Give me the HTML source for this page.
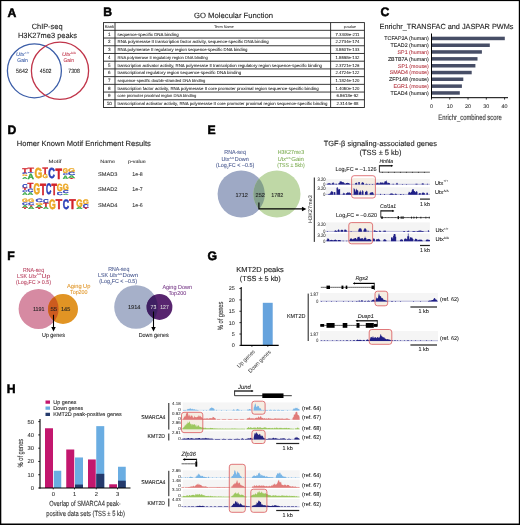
<!DOCTYPE html>
<html><head><meta charset="utf-8"><style>
svg{will-change:transform}
html,body{margin:0;padding:0;background:#fff;width:520px;height:525px;overflow:hidden}
svg text{font-family:"Liberation Sans", sans-serif;text-rendering:geometricPrecision}
</style></head><body>
<svg width="520" height="525" viewBox="0 0 520 525" style="display:block"><text x="7.45" y="16.55" font-size="12.222" fill="#000" font-weight="bold" stroke="#000" stroke-width="0.5">A</text>
<text x="31.70" y="28.78" font-size="7.6" fill="#222" textLength="30.80" lengthAdjust="spacingAndGlyphs" stroke="#222" stroke-width="0.114">ChIP-seq</text>
<text x="17.90" y="38.18" font-size="7.6" fill="#222" textLength="59.10" lengthAdjust="spacingAndGlyphs" stroke="#222" stroke-width="0.114">H3K27me3 peaks</text>
<circle cx="34.40" cy="70.80" r="27.00" fill="none" stroke="#3c5ea8" stroke-width="1.3"/>
<circle cx="60.00" cy="70.80" r="28.60" fill="none" stroke="#c0354a" stroke-width="1.3"/>
<text x="16.00" y="56.40" font-size="5.4" fill="#3c5ea8" textLength="8.60" lengthAdjust="spacingAndGlyphs" font-style="italic" stroke="#3c5ea8" stroke-width="0.081">Utx</text>
<text x="24.80" y="53.60" font-size="3.2" fill="#3c5ea8" stroke="#3c5ea8" stroke-width="0.048">+/+</text>
<text x="17.30" y="62.04" font-size="5.4" fill="#3c5ea8" textLength="10.60" lengthAdjust="spacingAndGlyphs" stroke="#3c5ea8" stroke-width="0.081">Gain</text>
<text x="62.00" y="56.40" font-size="5.4" fill="#c0354a" textLength="8.60" lengthAdjust="spacingAndGlyphs" font-style="italic" stroke="#c0354a" stroke-width="0.081">Utx</text>
<text x="70.80" y="53.60" font-size="3.2" fill="#c0354a" stroke="#c0354a" stroke-width="0.048">Δ/Δ</text>
<text x="63.50" y="62.04" font-size="5.4" fill="#c0354a" textLength="10.50" lengthAdjust="spacingAndGlyphs" stroke="#c0354a" stroke-width="0.081">Gain</text>
<text x="16.00" y="73.24" font-size="6.0" fill="#222" textLength="11.90" lengthAdjust="spacingAndGlyphs" stroke="#222" stroke-width="0.090">5642</text>
<text x="39.80" y="73.24" font-size="6.0" fill="#222" textLength="11.70" lengthAdjust="spacingAndGlyphs" stroke="#222" stroke-width="0.090">4502</text>
<text x="68.30" y="73.24" font-size="6.0" fill="#222" textLength="11.50" lengthAdjust="spacingAndGlyphs" stroke="#222" stroke-width="0.090">7308</text>
<text x="103.23" y="16.35" font-size="12.222" fill="#000" font-weight="bold" stroke="#000" stroke-width="0.5">B</text>
<text x="194.00" y="18.08" font-size="7.6" fill="#222" textLength="79.10" lengthAdjust="spacingAndGlyphs" stroke="#222" stroke-width="0.114">GO Molecular Function</text>
<rect x="103.50" y="22.60" width="260.90" height="84.90" fill="none" stroke="#222" stroke-width="0.9"/>
<line x1="103.50" y1="30.32" x2="364.40" y2="30.32" stroke="#222" stroke-width="0.9"/>
<line x1="103.50" y1="38.04" x2="364.40" y2="38.04" stroke="#222" stroke-width="0.9"/>
<line x1="103.50" y1="45.75" x2="364.40" y2="45.75" stroke="#222" stroke-width="0.9"/>
<line x1="103.50" y1="53.47" x2="364.40" y2="53.47" stroke="#222" stroke-width="0.9"/>
<line x1="103.50" y1="61.19" x2="364.40" y2="61.19" stroke="#222" stroke-width="0.9"/>
<line x1="103.50" y1="68.91" x2="364.40" y2="68.91" stroke="#222" stroke-width="0.9"/>
<line x1="103.50" y1="76.63" x2="364.40" y2="76.63" stroke="#222" stroke-width="0.9"/>
<line x1="103.50" y1="84.35" x2="364.40" y2="84.35" stroke="#222" stroke-width="0.9"/>
<line x1="103.50" y1="92.06" x2="364.40" y2="92.06" stroke="#222" stroke-width="0.9"/>
<line x1="103.50" y1="99.78" x2="364.40" y2="99.78" stroke="#222" stroke-width="0.9"/>
<line x1="115.00" y1="22.60" x2="115.00" y2="107.50" stroke="#222" stroke-width="0.9"/>
<line x1="330.60" y1="22.60" x2="330.60" y2="107.50" stroke="#222" stroke-width="0.9"/>
<text x="109.30" y="27.86" font-size="4.0" fill="#222" text-anchor="middle" textLength="9.20" lengthAdjust="spacingAndGlyphs" stroke="#222" stroke-width="0.060">Rank</text>
<text x="224.00" y="27.86" font-size="3.8" fill="#333" text-anchor="middle" stroke="#333" stroke-width="0.057">Term Name</text>
<text x="350.00" y="27.86" font-size="3.8" fill="#333" text-anchor="middle" stroke="#333" stroke-width="0.057">p-value</text>
<text x="109.30" y="35.63" font-size="4.6" fill="#222" text-anchor="middle" stroke="#222" stroke-width="0.069">1</text>
<text x="117.50" y="35.63" font-size="4.3" fill="#222" textLength="61.25" lengthAdjust="spacingAndGlyphs" stroke="#222" stroke-width="0.064">sequence-specific DNA binding</text>
<text x="347.50" y="35.63" font-size="4.3" fill="#222" text-anchor="middle" textLength="24.00" lengthAdjust="spacingAndGlyphs" stroke="#222" stroke-width="0.064">7.3309e-211</text>
<text x="109.30" y="43.35" font-size="4.6" fill="#222" text-anchor="middle" stroke="#222" stroke-width="0.069">2</text>
<text x="117.50" y="43.35" font-size="4.3" fill="#222" textLength="151.25" lengthAdjust="spacingAndGlyphs" stroke="#222" stroke-width="0.064">RNA polymerase II transcription factor activity, sequence-specific DNA binding</text>
<text x="347.50" y="43.35" font-size="4.3" fill="#222" text-anchor="middle" textLength="24.00" lengthAdjust="spacingAndGlyphs" stroke="#222" stroke-width="0.064">2.2734e-174</text>
<text x="109.30" y="51.06" font-size="4.6" fill="#222" text-anchor="middle" stroke="#222" stroke-width="0.069">3</text>
<text x="117.50" y="51.06" font-size="4.3" fill="#222" textLength="130.00" lengthAdjust="spacingAndGlyphs" stroke="#222" stroke-width="0.064">RNA polymerase II regulatory region sequence-specific DNA binding</text>
<text x="347.50" y="51.06" font-size="4.3" fill="#222" text-anchor="middle" textLength="24.00" lengthAdjust="spacingAndGlyphs" stroke="#222" stroke-width="0.064">3.5507e-133</text>
<text x="109.30" y="58.78" font-size="4.6" fill="#222" text-anchor="middle" stroke="#222" stroke-width="0.069">4</text>
<text x="117.50" y="58.78" font-size="4.128" fill="#222" stroke="#222" stroke-width="0.062">RNA polymerase II regulatory region DNA binding</text>
<text x="347.50" y="58.78" font-size="4.3" fill="#222" text-anchor="middle" textLength="24.00" lengthAdjust="spacingAndGlyphs" stroke="#222" stroke-width="0.064">1.5598e-132</text>
<text x="109.30" y="66.50" font-size="4.6" fill="#222" text-anchor="middle" stroke="#222" stroke-width="0.069">5</text>
<text x="117.50" y="66.50" font-size="4.3" fill="#222" textLength="204.50" lengthAdjust="spacingAndGlyphs" stroke="#222" stroke-width="0.064">transcription activator activity, RNA polymerase II transcription regulatory region sequence-specific binding</text>
<text x="347.50" y="66.50" font-size="4.3" fill="#222" text-anchor="middle" textLength="24.00" lengthAdjust="spacingAndGlyphs" stroke="#222" stroke-width="0.064">2.3721e-126</text>
<text x="109.30" y="74.22" font-size="4.6" fill="#222" text-anchor="middle" stroke="#222" stroke-width="0.069">6</text>
<text x="117.50" y="74.22" font-size="4.3" fill="#222" textLength="123.75" lengthAdjust="spacingAndGlyphs" stroke="#222" stroke-width="0.064">transcriptional regulatory region sequence-specific DNA binding</text>
<text x="347.50" y="74.22" font-size="4.3" fill="#222" text-anchor="middle" textLength="24.00" lengthAdjust="spacingAndGlyphs" stroke="#222" stroke-width="0.064">2.4724e-122</text>
<text x="109.30" y="81.94" font-size="4.6" fill="#222" text-anchor="middle" stroke="#222" stroke-width="0.069">7</text>
<text x="117.50" y="81.94" font-size="4.128" fill="#222" stroke="#222" stroke-width="0.062">sequence-specific double-stranded DNA binding</text>
<text x="347.50" y="81.94" font-size="4.3" fill="#222" text-anchor="middle" textLength="24.00" lengthAdjust="spacingAndGlyphs" stroke="#222" stroke-width="0.064">1.1824e-120</text>
<text x="109.30" y="89.65" font-size="4.6" fill="#222" text-anchor="middle" stroke="#222" stroke-width="0.069">8</text>
<text x="117.50" y="89.65" font-size="4.3" fill="#222" textLength="201.25" lengthAdjust="spacingAndGlyphs" stroke="#222" stroke-width="0.064">transcription factor activity, RNA polymerase II core promoter proximal region sequence-specific binding</text>
<text x="347.50" y="89.65" font-size="4.3" fill="#222" text-anchor="middle" textLength="24.00" lengthAdjust="spacingAndGlyphs" stroke="#222" stroke-width="0.064">1.4050e-120</text>
<text x="109.30" y="97.37" font-size="4.6" fill="#222" text-anchor="middle" stroke="#222" stroke-width="0.069">9</text>
<text x="117.50" y="97.37" font-size="4.128" fill="#222" stroke="#222" stroke-width="0.062">core promoter proximal region DNA binding</text>
<text x="347.50" y="97.37" font-size="4.3" fill="#222" text-anchor="middle" textLength="22.00" lengthAdjust="spacingAndGlyphs" stroke="#222" stroke-width="0.064">6.5618e-92</text>
<text x="109.30" y="105.09" font-size="4.6" fill="#222" text-anchor="middle" stroke="#222" stroke-width="0.069">10</text>
<text x="117.50" y="105.09" font-size="4.3" fill="#222" textLength="210.00" lengthAdjust="spacingAndGlyphs" stroke="#222" stroke-width="0.064">transcriptional activator activity, RNA polymerase II core promoter proximal region sequence-specific binding</text>
<text x="347.50" y="105.09" font-size="4.3" fill="#222" text-anchor="middle" textLength="22.00" lengthAdjust="spacingAndGlyphs" stroke="#222" stroke-width="0.064">2.3144e-88</text>
<text x="380.40" y="16.45" font-size="12.222" fill="#000" font-weight="bold" stroke="#000" stroke-width="0.5">C</text>
<text x="379.50" y="29.02" font-size="7.4" fill="#222" textLength="133.90" lengthAdjust="spacingAndGlyphs" stroke="#222" stroke-width="0.111">Enrichr_TRANSFAC and JASPAR PWMs</text>
<rect x="431.50" y="36.70" width="73.30" height="3.50" fill="#474e66"/>
<text x="428.80" y="40.10" font-size="5.3" fill="#222" text-anchor="end" stroke="#222" stroke-width="0.080">TCFAP2A (human)</text>
<rect x="431.50" y="43.50" width="58.30" height="3.50" fill="#474e66"/>
<text x="428.80" y="46.90" font-size="5.3" fill="#222" text-anchor="end" stroke="#222" stroke-width="0.080">TEAD2 (human)</text>
<rect x="431.50" y="50.20" width="50.40" height="3.50" fill="#474e66"/>
<text x="428.80" y="53.60" font-size="5.3" fill="#b3343f" text-anchor="end" stroke="#b3343f" stroke-width="0.080">SP1 (human)</text>
<rect x="431.50" y="57.10" width="46.00" height="3.50" fill="#474e66"/>
<text x="428.80" y="60.50" font-size="5.3" fill="#222" text-anchor="end" stroke="#222" stroke-width="0.080">ZBTB7A (human)</text>
<rect x="431.50" y="64.00" width="43.90" height="3.50" fill="#474e66"/>
<text x="428.80" y="67.50" font-size="5.3" fill="#b3343f" text-anchor="end" stroke="#b3343f" stroke-width="0.080">SP1 (mouse)</text>
<rect x="431.50" y="70.80" width="40.20" height="3.50" fill="#474e66"/>
<text x="428.80" y="74.30" font-size="5.3" fill="#b3343f" text-anchor="end" stroke="#b3343f" stroke-width="0.080">SMAD4 (mouse)</text>
<rect x="431.50" y="77.50" width="31.80" height="3.50" fill="#474e66"/>
<text x="428.80" y="81.10" font-size="5.3" fill="#222" text-anchor="end" stroke="#222" stroke-width="0.080">ZFP148 (mouse)</text>
<rect x="431.50" y="84.40" width="30.40" height="3.50" fill="#474e66"/>
<text x="428.80" y="87.80" font-size="5.3" fill="#b3343f" text-anchor="end" stroke="#b3343f" stroke-width="0.080">EGR1 (mouse)</text>
<rect x="431.50" y="91.20" width="28.30" height="3.50" fill="#474e66"/>
<text x="428.80" y="94.50" font-size="5.3" fill="#222" text-anchor="end" stroke="#222" stroke-width="0.080">TEAD4 (human)</text>
<line x1="431.50" y1="33.50" x2="431.50" y2="98.20" stroke="#000" stroke-width="1.0"/>
<line x1="431.00" y1="97.70" x2="508.00" y2="97.70" stroke="#000" stroke-width="1.0"/>
<line x1="431.50" y1="97.70" x2="431.50" y2="99.60" stroke="#000" stroke-width="0.8"/>
<text x="431.50" y="108.40" font-size="5.4" fill="#333" text-anchor="middle" stroke="#333" stroke-width="0.081">0</text>
<line x1="449.77" y1="97.70" x2="449.77" y2="99.60" stroke="#000" stroke-width="0.8"/>
<text x="449.77" y="108.40" font-size="5.4" fill="#333" text-anchor="middle" stroke="#333" stroke-width="0.081">10</text>
<line x1="468.04" y1="97.70" x2="468.04" y2="99.60" stroke="#000" stroke-width="0.8"/>
<text x="468.04" y="108.40" font-size="5.4" fill="#333" text-anchor="middle" stroke="#333" stroke-width="0.081">20</text>
<line x1="486.31" y1="97.70" x2="486.31" y2="99.60" stroke="#000" stroke-width="0.8"/>
<text x="486.31" y="108.40" font-size="5.4" fill="#333" text-anchor="middle" stroke="#333" stroke-width="0.081">30</text>
<line x1="504.58" y1="97.70" x2="504.58" y2="99.60" stroke="#000" stroke-width="0.8"/>
<text x="504.58" y="108.40" font-size="5.4" fill="#333" text-anchor="middle" stroke="#333" stroke-width="0.081">40</text>
<text x="438.30" y="119.65" font-size="7.8" fill="#333" textLength="63.40" lengthAdjust="spacingAndGlyphs" stroke="#333" stroke-width="0.117">Enrichr_combined score</text>
<text x="7.53" y="133.65" font-size="12.222" fill="#000" font-weight="bold" stroke="#000" stroke-width="0.5">D</text>
<text x="16.80" y="146.18" font-size="7.6" fill="#222" textLength="134.00" lengthAdjust="spacingAndGlyphs" stroke="#222" stroke-width="0.114">Homer Known Motif Enrichment Results</text>
<text x="48.60" y="162.63" font-size="4.8" fill="#333" textLength="12.90" lengthAdjust="spacingAndGlyphs" stroke="#333" stroke-width="0.072">Motif</text>
<text x="100.30" y="162.93" font-size="4.8" fill="#333" textLength="14.70" lengthAdjust="spacingAndGlyphs" stroke="#333" stroke-width="0.072">Name</text>
<text x="128.00" y="162.93" font-size="4.8" fill="#333" textLength="17.80" lengthAdjust="spacingAndGlyphs" stroke="#333" stroke-width="0.072">p-value</text>
<text x="98.00" y="175.87" font-size="5.5" fill="#333" textLength="19.50" lengthAdjust="spacingAndGlyphs" stroke="#333" stroke-width="0.083">SMAD3</text>
<text x="132.30" y="175.87" font-size="5.5" fill="#333" textLength="10.50" lengthAdjust="spacingAndGlyphs" stroke="#333" stroke-width="0.083">1e-8</text>
<text x="98.00" y="190.87" font-size="5.5" fill="#333" textLength="19.50" lengthAdjust="spacingAndGlyphs" stroke="#333" stroke-width="0.083">SMAD2</text>
<text x="132.30" y="190.87" font-size="5.5" fill="#333" textLength="10.50" lengthAdjust="spacingAndGlyphs" stroke="#333" stroke-width="0.083">1e-7</text>
<text x="98.00" y="206.87" font-size="5.5" fill="#333" textLength="19.50" lengthAdjust="spacingAndGlyphs" stroke="#333" stroke-width="0.083">SMAD4</text>
<text x="132.30" y="206.87" font-size="5.5" fill="#333" textLength="10.50" lengthAdjust="spacingAndGlyphs" stroke="#333" stroke-width="0.083">1e-6</text>
<text transform="translate(22.20,172.50) scale(1,0.683)" font-size="10.0" font-weight="bold" fill="#d2232a" stroke="#d2232a" stroke-width="0.45" vector-effect="non-scaling-stroke" textLength="5.30" lengthAdjust="spacingAndGlyphs">T</text>
<text transform="translate(22.20,174.37) scale(1,0.243)" font-size="10.0" font-weight="bold" fill="#2b3fb8" stroke="#2b3fb8" stroke-width="0.45" vector-effect="non-scaling-stroke" textLength="5.30" lengthAdjust="spacingAndGlyphs">C</text>
<text transform="translate(22.20,176.27) scale(1,0.257)" font-size="10.0" font-weight="bold" fill="#eba520" stroke="#eba520" stroke-width="0.45" vector-effect="non-scaling-stroke" textLength="5.30" lengthAdjust="spacingAndGlyphs">G</text>
<text transform="translate(22.20,178.50) scale(1,0.291)" font-size="10.0" font-weight="bold" fill="#3aa845" stroke="#3aa845" stroke-width="0.45" vector-effect="non-scaling-stroke" textLength="5.30" lengthAdjust="spacingAndGlyphs">A</text>
<text transform="translate(27.60,172.00) scale(1,0.610)" font-size="10.0" font-weight="bold" fill="#d2232a" stroke="#d2232a" stroke-width="0.45" vector-effect="non-scaling-stroke" textLength="6.50" lengthAdjust="spacingAndGlyphs">T</text>
<text transform="translate(27.60,173.18) scale(1,0.143)" font-size="10.0" font-weight="bold" fill="#2b3fb8" stroke="#2b3fb8" stroke-width="0.45" vector-effect="non-scaling-stroke" textLength="6.50" lengthAdjust="spacingAndGlyphs">C</text>
<text transform="translate(27.60,178.50) scale(1,0.756)" font-size="10.0" font-weight="bold" fill="#3aa845" stroke="#3aa845" stroke-width="0.45" vector-effect="non-scaling-stroke" textLength="6.50" lengthAdjust="spacingAndGlyphs">A</text>
<text transform="translate(34.60,178.33) scale(1,1.443)" font-size="10.0" font-weight="bold" fill="#eba520" stroke="#eba520" stroke-width="0.45" vector-effect="non-scaling-stroke" textLength="7.80" lengthAdjust="spacingAndGlyphs">G</text>
<text transform="translate(42.40,174.40) scale(1,0.959)" font-size="10.0" font-weight="bold" fill="#d2232a" stroke="#d2232a" stroke-width="0.45" vector-effect="non-scaling-stroke" textLength="5.40" lengthAdjust="spacingAndGlyphs">T</text>
<text transform="translate(42.40,178.43) scale(1,0.571)" font-size="10.0" font-weight="bold" fill="#eba520" stroke="#eba520" stroke-width="0.45" vector-effect="non-scaling-stroke" textLength="5.40" lengthAdjust="spacingAndGlyphs">G</text>
<text transform="translate(48.30,178.33) scale(1,1.443)" font-size="10.0" font-weight="bold" fill="#2b3fb8" stroke="#2b3fb8" stroke-width="0.45" vector-effect="non-scaling-stroke" textLength="6.70" lengthAdjust="spacingAndGlyphs">C</text>
<text transform="translate(55.60,178.50) scale(1,1.483)" font-size="10.0" font-weight="bold" fill="#d2232a" stroke="#d2232a" stroke-width="0.45" vector-effect="non-scaling-stroke" textLength="6.50" lengthAdjust="spacingAndGlyphs">T</text>
<text transform="translate(62.70,173.02) scale(1,0.686)" font-size="10.0" font-weight="bold" fill="#eba520" stroke="#eba520" stroke-width="0.45" vector-effect="non-scaling-stroke" textLength="5.30" lengthAdjust="spacingAndGlyphs">G</text>
<text transform="translate(62.70,174.97) scale(1,0.257)" font-size="10.0" font-weight="bold" fill="#2b3fb8" stroke="#2b3fb8" stroke-width="0.45" vector-effect="non-scaling-stroke" textLength="5.30" lengthAdjust="spacingAndGlyphs">C</text>
<text transform="translate(62.70,178.50) scale(1,0.480)" font-size="10.0" font-weight="bold" fill="#3aa845" stroke="#3aa845" stroke-width="0.45" vector-effect="non-scaling-stroke" textLength="5.30" lengthAdjust="spacingAndGlyphs">A</text>
<text transform="translate(68.10,171.53) scale(1,0.543)" font-size="10.0" font-weight="bold" fill="#eba520" stroke="#eba520" stroke-width="0.45" vector-effect="non-scaling-stroke" textLength="7.10" lengthAdjust="spacingAndGlyphs">G</text>
<text transform="translate(68.10,174.95) scale(1,0.457)" font-size="10.0" font-weight="bold" fill="#2b3fb8" stroke="#2b3fb8" stroke-width="0.45" vector-effect="non-scaling-stroke" textLength="7.10" lengthAdjust="spacingAndGlyphs">C</text>
<text transform="translate(68.10,177.50) scale(1,0.349)" font-size="10.0" font-weight="bold" fill="#3aa845" stroke="#3aa845" stroke-width="0.45" vector-effect="non-scaling-stroke" textLength="7.10" lengthAdjust="spacingAndGlyphs">A</text>
<text transform="translate(68.10,178.50) scale(1,0.145)" font-size="10.0" font-weight="bold" fill="#d2232a" stroke="#d2232a" stroke-width="0.45" vector-effect="non-scaling-stroke" textLength="7.10" lengthAdjust="spacingAndGlyphs">T</text>
<text transform="translate(22.20,187.53) scale(1,0.571)" font-size="10.0" font-weight="bold" fill="#2b3fb8" stroke="#2b3fb8" stroke-width="0.45" vector-effect="non-scaling-stroke" textLength="5.30" lengthAdjust="spacingAndGlyphs">C</text>
<text transform="translate(22.20,190.00) scale(1,0.334)" font-size="10.0" font-weight="bold" fill="#d2232a" stroke="#d2232a" stroke-width="0.45" vector-effect="non-scaling-stroke" textLength="5.30" lengthAdjust="spacingAndGlyphs">T</text>
<text transform="translate(22.20,191.87) scale(1,0.257)" font-size="10.0" font-weight="bold" fill="#2b3fb8" stroke="#2b3fb8" stroke-width="0.45" vector-effect="non-scaling-stroke" textLength="5.30" lengthAdjust="spacingAndGlyphs">C</text>
<text transform="translate(22.20,194.60) scale(1,0.378)" font-size="10.0" font-weight="bold" fill="#3aa845" stroke="#3aa845" stroke-width="0.45" vector-effect="non-scaling-stroke" textLength="5.30" lengthAdjust="spacingAndGlyphs">A</text>
<text transform="translate(27.60,188.40) scale(1,0.741)" font-size="10.0" font-weight="bold" fill="#d2232a" stroke="#d2232a" stroke-width="0.45" vector-effect="non-scaling-stroke" textLength="5.80" lengthAdjust="spacingAndGlyphs">T</text>
<text transform="translate(27.60,191.84) scale(1,0.486)" font-size="10.0" font-weight="bold" fill="#2b3fb8" stroke="#2b3fb8" stroke-width="0.45" vector-effect="non-scaling-stroke" textLength="5.80" lengthAdjust="spacingAndGlyphs">C</text>
<text transform="translate(27.60,194.60) scale(1,0.378)" font-size="10.0" font-weight="bold" fill="#3aa845" stroke="#3aa845" stroke-width="0.45" vector-effect="non-scaling-stroke" textLength="5.80" lengthAdjust="spacingAndGlyphs">A</text>
<text transform="translate(33.50,194.41) scale(1,1.543)" font-size="10.0" font-weight="bold" fill="#eba520" stroke="#eba520" stroke-width="0.45" vector-effect="non-scaling-stroke" textLength="6.50" lengthAdjust="spacingAndGlyphs">G</text>
<text transform="translate(40.00,194.60) scale(1,1.613)" font-size="10.0" font-weight="bold" fill="#d2232a" stroke="#d2232a" stroke-width="0.45" vector-effect="non-scaling-stroke" textLength="6.00" lengthAdjust="spacingAndGlyphs">T</text>
<text transform="translate(46.00,194.41) scale(1,1.543)" font-size="10.0" font-weight="bold" fill="#2b3fb8" stroke="#2b3fb8" stroke-width="0.45" vector-effect="non-scaling-stroke" textLength="5.40" lengthAdjust="spacingAndGlyphs">C</text>
<text transform="translate(51.40,194.60) scale(1,1.613)" font-size="10.0" font-weight="bold" fill="#d2232a" stroke="#d2232a" stroke-width="0.45" vector-effect="non-scaling-stroke" textLength="5.40" lengthAdjust="spacingAndGlyphs">T</text>
<text transform="translate(56.80,191.27) scale(1,1.057)" font-size="10.0" font-weight="bold" fill="#eba520" stroke="#eba520" stroke-width="0.45" vector-effect="non-scaling-stroke" textLength="5.90" lengthAdjust="spacingAndGlyphs">G</text>
<text transform="translate(56.80,194.55) scale(1,0.443)" font-size="10.0" font-weight="bold" fill="#2b3fb8" stroke="#2b3fb8" stroke-width="0.45" vector-effect="non-scaling-stroke" textLength="5.90" lengthAdjust="spacingAndGlyphs">C</text>
<text transform="translate(62.70,190.29) scale(1,0.914)" font-size="10.0" font-weight="bold" fill="#eba520" stroke="#eba520" stroke-width="0.45" vector-effect="non-scaling-stroke" textLength="6.00" lengthAdjust="spacingAndGlyphs">G</text>
<text transform="translate(62.70,193.35) scale(1,0.414)" font-size="10.0" font-weight="bold" fill="#2b3fb8" stroke="#2b3fb8" stroke-width="0.45" vector-effect="non-scaling-stroke" textLength="6.00" lengthAdjust="spacingAndGlyphs">C</text>
<text transform="translate(62.70,194.60) scale(1,0.160)" font-size="10.0" font-weight="bold" fill="#3aa845" stroke="#3aa845" stroke-width="0.45" vector-effect="non-scaling-stroke" textLength="6.00" lengthAdjust="spacingAndGlyphs">A</text>
<text transform="translate(22.00,202.34) scale(1,0.486)" font-size="10.0" font-weight="bold" fill="#eba520" stroke="#eba520" stroke-width="0.45" vector-effect="non-scaling-stroke" textLength="6.00" lengthAdjust="spacingAndGlyphs">G</text>
<text transform="translate(22.00,204.96) scale(1,0.357)" font-size="10.0" font-weight="bold" fill="#2b3fb8" stroke="#2b3fb8" stroke-width="0.45" vector-effect="non-scaling-stroke" textLength="6.00" lengthAdjust="spacingAndGlyphs">C</text>
<text transform="translate(22.00,208.00) scale(1,0.407)" font-size="10.0" font-weight="bold" fill="#3aa845" stroke="#3aa845" stroke-width="0.45" vector-effect="non-scaling-stroke" textLength="6.00" lengthAdjust="spacingAndGlyphs">A</text>
<text transform="translate(22.00,209.40) scale(1,0.203)" font-size="10.0" font-weight="bold" fill="#d2232a" stroke="#d2232a" stroke-width="0.45" vector-effect="non-scaling-stroke" textLength="6.00" lengthAdjust="spacingAndGlyphs">T</text>
<text transform="translate(28.00,202.34) scale(1,0.486)" font-size="10.0" font-weight="bold" fill="#eba520" stroke="#eba520" stroke-width="0.45" vector-effect="non-scaling-stroke" textLength="6.40" lengthAdjust="spacingAndGlyphs">G</text>
<text transform="translate(28.00,204.96) scale(1,0.357)" font-size="10.0" font-weight="bold" fill="#2b3fb8" stroke="#2b3fb8" stroke-width="0.45" vector-effect="non-scaling-stroke" textLength="6.40" lengthAdjust="spacingAndGlyphs">C</text>
<text transform="translate(28.00,207.00) scale(1,0.262)" font-size="10.0" font-weight="bold" fill="#d2232a" stroke="#d2232a" stroke-width="0.45" vector-effect="non-scaling-stroke" textLength="6.40" lengthAdjust="spacingAndGlyphs">T</text>
<text transform="translate(28.00,209.40) scale(1,0.349)" font-size="10.0" font-weight="bold" fill="#3aa845" stroke="#3aa845" stroke-width="0.45" vector-effect="non-scaling-stroke" textLength="6.40" lengthAdjust="spacingAndGlyphs">A</text>
<text transform="translate(35.60,202.34) scale(1,0.486)" font-size="10.0" font-weight="bold" fill="#2b3fb8" stroke="#2b3fb8" stroke-width="0.45" vector-effect="non-scaling-stroke" textLength="7.30" lengthAdjust="spacingAndGlyphs">C</text>
<text transform="translate(35.60,204.56) scale(1,0.300)" font-size="10.0" font-weight="bold" fill="#eba520" stroke="#eba520" stroke-width="0.45" vector-effect="non-scaling-stroke" textLength="7.30" lengthAdjust="spacingAndGlyphs">G</text>
<text transform="translate(35.60,207.80) scale(1,0.436)" font-size="10.0" font-weight="bold" fill="#3aa845" stroke="#3aa845" stroke-width="0.45" vector-effect="non-scaling-stroke" textLength="7.30" lengthAdjust="spacingAndGlyphs">A</text>
<text transform="translate(35.60,209.40) scale(1,0.233)" font-size="10.0" font-weight="bold" fill="#d2232a" stroke="#d2232a" stroke-width="0.45" vector-effect="non-scaling-stroke" textLength="7.30" lengthAdjust="spacingAndGlyphs">T</text>
<text transform="translate(42.90,202.93) scale(1,0.571)" font-size="10.0" font-weight="bold" fill="#2b3fb8" stroke="#2b3fb8" stroke-width="0.45" vector-effect="non-scaling-stroke" textLength="5.70" lengthAdjust="spacingAndGlyphs">C</text>
<text transform="translate(42.90,207.20) scale(1,0.596)" font-size="10.0" font-weight="bold" fill="#d2232a" stroke="#d2232a" stroke-width="0.45" vector-effect="non-scaling-stroke" textLength="5.70" lengthAdjust="spacingAndGlyphs">T</text>
<text transform="translate(42.90,209.40) scale(1,0.305)" font-size="10.0" font-weight="bold" fill="#3aa845" stroke="#3aa845" stroke-width="0.45" vector-effect="non-scaling-stroke" textLength="5.70" lengthAdjust="spacingAndGlyphs">A</text>
<text transform="translate(49.00,209.24) scale(1,1.371)" font-size="10.0" font-weight="bold" fill="#eba520" stroke="#eba520" stroke-width="0.45" vector-effect="non-scaling-stroke" textLength="6.70" lengthAdjust="spacingAndGlyphs">G</text>
<text transform="translate(55.70,209.40) scale(1,1.424)" font-size="10.0" font-weight="bold" fill="#d2232a" stroke="#d2232a" stroke-width="0.45" vector-effect="non-scaling-stroke" textLength="6.40" lengthAdjust="spacingAndGlyphs">T</text>
<text transform="translate(62.80,209.24) scale(1,1.371)" font-size="10.0" font-weight="bold" fill="#2b3fb8" stroke="#2b3fb8" stroke-width="0.45" vector-effect="non-scaling-stroke" textLength="6.40" lengthAdjust="spacingAndGlyphs">C</text>
<text transform="translate(69.20,209.40) scale(1,1.424)" font-size="10.0" font-weight="bold" fill="#d2232a" stroke="#d2232a" stroke-width="0.45" vector-effect="non-scaling-stroke" textLength="6.40" lengthAdjust="spacingAndGlyphs">T</text>
<text transform="translate(76.30,206.87) scale(1,1.071)" font-size="10.0" font-weight="bold" fill="#eba520" stroke="#eba520" stroke-width="0.45" vector-effect="non-scaling-stroke" textLength="6.40" lengthAdjust="spacingAndGlyphs">G</text>
<text transform="translate(76.30,209.40) scale(1,0.334)" font-size="10.0" font-weight="bold" fill="#3aa845" stroke="#3aa845" stroke-width="0.45" vector-effect="non-scaling-stroke" textLength="6.40" lengthAdjust="spacingAndGlyphs">A</text>
<text transform="translate(82.70,203.92) scale(1,0.643)" font-size="10.0" font-weight="bold" fill="#eba520" stroke="#eba520" stroke-width="0.45" vector-effect="non-scaling-stroke" textLength="6.10" lengthAdjust="spacingAndGlyphs">G</text>
<text transform="translate(82.70,207.93) scale(1,0.557)" font-size="10.0" font-weight="bold" fill="#2b3fb8" stroke="#2b3fb8" stroke-width="0.45" vector-effect="non-scaling-stroke" textLength="6.10" lengthAdjust="spacingAndGlyphs">C</text>
<text transform="translate(82.70,209.40) scale(1,0.203)" font-size="10.0" font-weight="bold" fill="#d2232a" stroke="#d2232a" stroke-width="0.45" vector-effect="non-scaling-stroke" textLength="6.10" lengthAdjust="spacingAndGlyphs">T</text>
<text x="207.43" y="133.55" font-size="12.222" fill="#000" font-weight="bold" stroke="#000" stroke-width="0.5">E</text>
<text x="224.30" y="154.27" font-size="5.8" fill="#4a5a90" textLength="21.60" lengthAdjust="spacingAndGlyphs" stroke="#4a5a90" stroke-width="0.087">RNA-seq</text>
<text x="221.40" y="161.10" font-size="5.8" fill="#4a5a90" textLength="8.00" lengthAdjust="spacingAndGlyphs" stroke="#4a5a90" stroke-width="0.087">Utx</text>
<text x="229.60" y="158.60" font-size="2.8" fill="#4a5a90" stroke="#4a5a90" stroke-width="0.042">Δ/Δ</text>
<text x="234.80" y="161.10" font-size="5.8" fill="#4a5a90" textLength="14.00" lengthAdjust="spacingAndGlyphs" stroke="#4a5a90" stroke-width="0.087">Down</text>
<text x="216.00" y="167.30" font-size="5.8" fill="#4a5a90" stroke="#4a5a90" stroke-width="0.087" textLength="38.20" lengthAdjust="spacingAndGlyphs">(Log<tspan font-size="3.48" dy="1.28">2</tspan><tspan dy="-1.28">FC &lt; –0.5)</tspan></text>
<text x="277.70" y="154.27" font-size="5.8" fill="#7fae55" textLength="26.50" lengthAdjust="spacingAndGlyphs" stroke="#7fae55" stroke-width="0.087">H3K27me3</text>
<text x="277.80" y="161.10" font-size="5.8" fill="#7fae55" textLength="8.00" lengthAdjust="spacingAndGlyphs" font-style="italic" stroke="#7fae55" stroke-width="0.087">Utx</text>
<text x="286.00" y="158.60" font-size="2.8" fill="#7fae55" stroke="#7fae55" stroke-width="0.042">Δ/Δ</text>
<text x="291.20" y="161.10" font-size="5.8" fill="#7fae55" textLength="12.80" lengthAdjust="spacingAndGlyphs" stroke="#7fae55" stroke-width="0.087">Gain</text>
<text x="277.20" y="167.47" font-size="5.8" fill="#7fae55" textLength="27.50" lengthAdjust="spacingAndGlyphs" stroke="#7fae55" stroke-width="0.087">(TSS ± 5kb)</text>
<defs><clipPath id="cbE"><circle cx="241.2" cy="194.0" r="23.6"/></clipPath><clipPath id="cbF1"><circle cx="38.6" cy="308.9" r="20.0"/></clipPath><clipPath id="cbF2"><circle cx="136.0" cy="307.0" r="21.8"/></clipPath></defs>
<circle cx="241.20" cy="194.00" r="23.60" fill="#9ea9c5" stroke="none" stroke-width="1"/>
<circle cx="276.90" cy="194.00" r="23.60" fill="#bfd8a6" stroke="none" stroke-width="1"/>
<circle cx="276.90" cy="194.00" r="23.60" fill="#84a08c" stroke="none" stroke-width="1" clip-path="url(#cbE)"/>
<text x="235.40" y="196.50" font-size="5.6" fill="#222" textLength="12.60" lengthAdjust="spacingAndGlyphs" stroke="#222" stroke-width="0.084">1712</text>
<text x="255.50" y="196.50" font-size="5.6" fill="#222" textLength="9.50" lengthAdjust="spacingAndGlyphs" stroke="#222" stroke-width="0.084">252</text>
<text x="271.20" y="196.50" font-size="5.6" fill="#222" textLength="12.20" lengthAdjust="spacingAndGlyphs" stroke="#222" stroke-width="0.084">1782</text>
<path d="M258.9,202.5L258.9,208.9L302.0,208.9" fill="none" stroke="#000" stroke-width="1.1"/>
<path d="M306.40,208.90L301.92,206.66L301.92,211.14Z" fill="#000" stroke="none" stroke-width="1"/>
<text x="323.80" y="146.35" font-size="7.5" fill="#222" textLength="113.10" lengthAdjust="spacingAndGlyphs" stroke="#222" stroke-width="0.112">TGF-β signaling-associated genes</text>
<text x="359.50" y="155.15" font-size="7.5" fill="#222" textLength="42.00" lengthAdjust="spacingAndGlyphs" stroke="#222" stroke-width="0.112">(TSS ± 5 kb)</text>
<line x1="314.30" y1="177.50" x2="314.30" y2="241.90" stroke="#000" stroke-width="0.9"/>
<text transform="translate(312.4,222.9) rotate(-90)" font-size="5.3" fill="#222" textLength="27.7" lengthAdjust="spacingAndGlyphs">H3K27me3</text>
<text x="335.40" y="171.10" font-size="5.8" fill="#222" stroke="#222" stroke-width="0.087" textLength="41.10" lengthAdjust="spacingAndGlyphs">Log<tspan font-size="3.48" dy="1.28">2</tspan><tspan dy="-1.28">FC = –1.126</tspan></text>
<text x="379.40" y="163.00" font-size="5.4" fill="#222" textLength="13.80" lengthAdjust="spacingAndGlyphs" font-style="italic" stroke="#222" stroke-width="0.081">Hnf4a</text>
<line x1="379.40" y1="172.20" x2="379.40" y2="165.20" stroke="#000" stroke-width="0.8"/>
<line x1="379.40" y1="165.80" x2="392.20" y2="165.80" stroke="#000" stroke-width="1.2"/>
<path d="M393.20,165.80L391.10,164.75L391.10,166.85Z" fill="#000" stroke="none" stroke-width="1"/>
<line x1="379.40" y1="172.20" x2="429.90" y2="172.20" stroke="#222" stroke-width="0.7"/>
<circle cx="382.40" cy="172.20" r="0.5" fill="#222"/>
<circle cx="388.40" cy="172.20" r="0.5" fill="#222"/>
<circle cx="394.40" cy="172.20" r="0.5" fill="#222"/>
<circle cx="400.40" cy="172.20" r="0.5" fill="#222"/>
<circle cx="406.40" cy="172.20" r="0.5" fill="#222"/>
<circle cx="412.40" cy="172.20" r="0.5" fill="#222"/>
<circle cx="418.40" cy="172.20" r="0.5" fill="#222"/>
<circle cx="424.40" cy="172.20" r="0.5" fill="#222"/>
<rect x="325.70" y="179.20" width="104.20" height="5.70" fill="#f4f4f4"/>
<rect x="325.70" y="187.30" width="104.20" height="7.70" fill="#f4f4f4"/>
<rect x="351.60" y="178.00" width="23.80" height="18.20" rx="2.5" fill="#f5ece0" fill-opacity="0.9"/>
<line x1="325.70" y1="184.30" x2="429.90" y2="184.30" stroke="#8c8cc8" stroke-width="0.6"/>
<path d="M327.10,184.60L327.10,183.86L327.70,183.86L327.70,183.50L328.30,183.50L328.30,183.19L328.90,183.19L328.90,183.35L329.50,183.35L329.50,183.37L330.10,183.37L330.10,183.49L330.70,183.49L330.70,183.94L331.30,183.94L331.30,184.60ZM331.80,184.60L331.80,183.24L332.45,183.24L332.45,182.66L333.10,182.66L333.10,182.56L333.75,182.56L333.75,183.44L334.40,183.44L334.40,184.60ZM335.40,184.60L335.40,183.86L335.93,183.86L335.93,183.73L336.47,183.73L336.47,183.72L337.00,183.72L337.00,184.60ZM338.50,184.60L338.50,182.96L339.07,182.96L339.07,182.73L339.65,182.73L339.65,181.52L340.22,181.52L340.22,181.26L340.79,181.26L340.79,181.44L341.36,181.44L341.36,181.43L341.94,181.43L341.94,181.97L342.51,181.97L342.51,182.24L343.08,182.24L343.08,181.95L343.65,181.95L343.65,182.72L344.23,182.72L344.23,183.23L344.80,183.23L344.80,184.60ZM344.80,184.60L344.80,183.79L345.38,183.79L345.38,183.53L345.96,183.53L345.96,183.12L346.53,183.12L346.53,183.02L347.11,183.02L347.11,182.75L347.69,182.75L347.69,182.98L348.27,182.98L348.27,183.02L348.84,183.02L348.84,183.31L349.42,183.31L349.42,183.66L350.00,183.66L350.00,184.60ZM355.20,184.60L355.20,183.03L355.87,183.03L355.87,182.73L356.53,182.73L356.53,182.72L357.20,182.72L357.20,184.60ZM358.30,184.60L358.30,181.96L359.05,181.96L359.05,182.08L359.80,182.08L359.80,184.60ZM361.40,184.60L361.40,182.65L362.05,182.65L362.05,182.30L362.70,182.30L362.70,182.37L363.35,182.37L363.35,182.93L364.00,182.93L364.00,184.60ZM365.50,184.60L365.50,184.06L366.02,184.06L366.02,183.65L366.55,183.65L366.55,183.77L367.08,183.77L367.08,183.89L367.60,183.89L367.60,184.60ZM369.00,184.60L369.00,184.06L369.50,184.06L369.50,183.95L370.00,183.95L370.00,184.60ZM372.00,184.60L372.00,183.97L372.50,183.97L372.50,184.10L373.00,184.10L373.00,184.60ZM376.00,184.60L376.00,183.55L376.62,183.55L376.62,182.71L377.24,182.71L377.24,182.84L377.86,182.84L377.86,182.67L378.48,182.67L378.48,183.47L379.10,183.47L379.10,184.60ZM379.10,184.60L379.10,183.51L379.71,183.51L379.71,182.66L380.33,182.66L380.33,182.25L380.94,182.25L380.94,182.52L381.55,182.52L381.55,182.67L382.16,182.67L382.16,182.59L382.78,182.59L382.77,182.43L383.39,182.43L383.39,183.19L384.00,183.19L384.00,184.60ZM384.00,184.60L384.00,182.42L384.57,182.42L384.57,181.33L385.13,181.33L385.13,181.17L385.70,181.17L385.70,181.23L386.27,181.23L386.27,180.62L386.83,180.62L386.83,182.37L387.40,182.37L387.40,184.60ZM387.40,184.60L387.40,183.21L388.05,183.21L388.05,182.79L388.70,182.79L388.70,182.96L389.35,182.96L389.35,183.13L390.00,183.13L390.00,184.60ZM392.60,184.60L392.60,183.82L393.15,183.82L393.15,183.66L393.70,183.66L393.70,184.60ZM396.20,184.60L396.20,183.31L396.73,183.31L396.73,182.75L397.27,182.75L397.27,183.26L397.80,183.26L397.80,184.60ZM402.00,184.60L402.00,184.09L402.50,184.09L402.50,183.94L403.00,183.94L403.00,184.60ZM406.00,184.60L406.00,183.98L406.50,183.98L406.50,184.08L407.00,184.08L407.00,184.60ZM415.50,184.60L415.50,183.69L416.17,183.69L416.17,183.69L416.83,183.69L416.83,183.83L417.50,183.83L417.50,184.60ZM421.70,184.60L421.70,183.58L422.23,183.58L422.23,183.30L422.75,183.30L422.75,183.54L423.27,183.54L423.27,183.54L423.80,183.54L423.80,184.60ZM426.90,184.60L426.90,183.79L427.40,183.79L427.40,183.78L427.90,183.78L427.90,184.60Z" fill="#1f1f86" stroke="none" stroke-width="1"/>
<line x1="325.70" y1="194.40" x2="429.90" y2="194.40" stroke="#8c8cc8" stroke-width="0.6"/>
<path d="M328.20,194.70L328.20,193.91L328.87,193.91L328.87,193.63L329.53,193.63L329.53,193.86L330.20,193.86L330.20,194.70ZM330.20,194.70L330.20,192.50L330.82,192.50L330.82,191.79L331.44,191.79L331.44,191.07L332.06,191.07L332.06,191.46L332.68,191.46L332.68,191.90L333.30,191.90L333.30,194.70ZM333.90,194.70L333.90,192.06L334.65,192.06L334.65,192.14L335.40,192.14L335.40,194.70ZM336.50,194.70L336.50,187.80L337.17,187.80L337.17,187.30L337.83,187.30L337.83,188.80L338.50,188.80L338.50,194.70ZM338.50,194.70L338.50,189.83L339.03,189.83L339.03,189.13L339.57,189.13L339.57,189.00L340.10,189.00L340.10,194.70ZM342.70,194.70L342.70,193.63L343.23,193.63L343.23,192.78L343.75,192.78L343.75,193.24L344.27,193.24L344.27,193.35L344.80,193.35L344.80,194.70ZM345.80,194.70L345.80,193.54L346.38,193.54L346.38,192.97L346.96,192.97L346.96,192.37L347.53,192.37L347.53,192.85L348.11,192.85L348.11,192.78L348.69,192.78L348.69,192.14L349.27,192.14L349.27,192.62L349.84,192.62L349.84,193.17L350.42,193.17L350.42,193.25L351.00,193.25L351.00,194.70ZM353.60,194.70L353.60,188.35L354.13,188.35L354.13,188.70L354.67,188.70L354.67,189.38L355.20,189.38L355.20,194.70ZM355.20,194.70L355.20,191.41L355.82,191.41L355.82,189.76L356.44,189.76L356.44,188.75L357.06,188.75L357.06,190.04L357.68,190.04L357.68,190.65L358.30,190.65L358.30,194.70ZM358.80,194.70L358.80,192.42L359.45,192.42L359.45,191.44L360.10,191.44L360.10,190.58L360.75,190.58L360.75,192.08L361.40,192.08L361.40,194.70ZM361.90,194.70L361.90,191.32L362.43,191.32L362.43,190.11L362.97,190.11L362.97,191.25L363.50,191.25L363.50,194.70ZM365.00,194.70L365.00,192.10L365.65,192.10L365.65,191.62L366.30,191.62L366.30,190.70L366.95,190.70L366.95,191.53L367.60,191.53L367.60,194.70ZM369.70,194.70L369.70,192.95L370.29,192.95L370.29,192.43L370.87,192.43L370.87,192.38L371.46,192.38L371.46,192.29L372.04,192.29L372.04,192.09L372.63,192.09L372.63,192.42L373.21,192.42L373.21,193.41L373.80,193.41L373.80,194.70ZM380.00,194.70L380.00,193.89L380.50,193.89L380.50,193.85L381.00,193.85L381.00,194.70ZM384.00,194.70L384.00,194.02L384.50,194.02L384.50,193.95L385.00,193.95L385.00,194.70ZM389.50,194.70L389.50,193.95L390.10,193.95L390.10,193.81L390.70,193.81L390.70,193.34L391.30,193.34L391.30,193.46L391.90,193.46L391.90,193.47L392.50,193.47L392.50,193.73L393.10,193.73L393.10,193.97L393.70,193.97L393.70,194.70ZM394.70,194.70L394.70,194.00L395.23,194.00L395.23,193.62L395.75,193.62L395.75,193.85L396.27,193.85L396.27,193.96L396.80,193.96L396.80,194.70ZM400.00,194.70L400.00,194.10L400.75,194.10L400.75,193.98L401.50,193.98L401.50,194.70ZM403.00,194.70L403.00,194.20L403.50,194.20L403.50,194.18L404.00,194.18L404.00,194.70ZM408.20,194.70L408.20,192.80L408.76,192.80L408.76,191.74L409.32,191.74L409.32,192.15L409.88,192.15L409.88,191.92L410.44,191.92L410.44,192.89L411.00,192.89L411.00,194.70ZM411.00,194.70L411.00,191.94L411.57,191.94L411.57,190.44L412.14,190.44L412.14,189.01L412.71,189.01L412.71,189.66L413.29,189.66L413.29,189.01L413.86,189.01L413.86,190.92L414.43,190.92L414.43,191.25L415.00,191.25L415.00,194.70ZM415.00,194.70L415.00,192.29L415.62,192.29L415.62,191.63L416.25,191.63L416.25,190.94L416.88,190.94L416.88,191.79L417.50,191.79L417.50,194.70ZM418.60,194.70L418.60,193.47L419.30,193.47L419.30,192.96L420.00,192.96L420.00,193.06L420.70,193.06L420.70,194.70ZM421.70,194.70L421.70,193.11L422.32,193.11L422.32,192.56L422.94,192.56L422.94,192.61L423.56,192.61L423.56,192.73L424.18,192.73L424.18,192.95L424.80,192.95L424.80,194.70ZM426.40,194.70L426.40,192.72L427.15,192.72L427.15,192.71L427.90,192.71L427.90,194.70Z" fill="#1f1f86" stroke="none" stroke-width="1"/>
<rect x="351.60" y="178.00" width="23.80" height="18.20" rx="2.5" fill="#f5ece0" fill-opacity="0.0"/>
<rect x="351.60" y="175.70" width="23.80" height="22.30" rx="2.5" fill="none" stroke="#d9575c" stroke-width="0.8"/>
<text x="317.50" y="180.87" font-size="4.9" fill="#333" textLength="8.20" lengthAdjust="spacingAndGlyphs" stroke="#333" stroke-width="0.073">3.20</text>
<text x="323.20" y="186.07" font-size="4.9" fill="#333" textLength="2.10" lengthAdjust="spacingAndGlyphs" stroke="#333" stroke-width="0.073">0</text>
<text x="317.50" y="190.47" font-size="4.9" fill="#333" textLength="8.20" lengthAdjust="spacingAndGlyphs" stroke="#333" stroke-width="0.073">3.20</text>
<text x="323.20" y="196.27" font-size="4.9" fill="#333" textLength="2.10" lengthAdjust="spacingAndGlyphs" stroke="#333" stroke-width="0.073">0</text>
<text x="435.00" y="184.60" font-size="5.6" fill="#222" textLength="8.40" lengthAdjust="spacingAndGlyphs" stroke="#222" stroke-width="0.084">Utx</text>
<text x="443.40" y="182.20" font-size="3.2" fill="#222" stroke="#222" stroke-width="0.048">+/+</text>
<text x="435.00" y="194.40" font-size="5.6" fill="#222" textLength="8.40" lengthAdjust="spacingAndGlyphs" stroke="#222" stroke-width="0.084">Utx</text>
<text x="443.40" y="192.00" font-size="3.2" fill="#222" stroke="#222" stroke-width="0.048">Δ/Δ</text>
<rect x="420.00" y="198.50" width="9.90" height="1.20" fill="#222"/>
<text x="420.00" y="206.00" font-size="5.6" fill="#222" textLength="9.90" lengthAdjust="spacingAndGlyphs" stroke="#222" stroke-width="0.084">1 kb</text>
<text x="336.10" y="216.80" font-size="5.8" fill="#222" stroke="#222" stroke-width="0.087" textLength="41.00" lengthAdjust="spacingAndGlyphs">Log<tspan font-size="3.48" dy="1.28">2</tspan><tspan dy="-1.28">FC = –0.620</tspan></text>
<text x="380.10" y="208.00" font-size="5.4" fill="#222" textLength="16.10" lengthAdjust="spacingAndGlyphs" font-style="italic" stroke="#222" stroke-width="0.081">Col1a1</text>
<line x1="380.80" y1="217.60" x2="380.80" y2="210.30" stroke="#000" stroke-width="0.8"/>
<line x1="380.80" y1="210.90" x2="393.40" y2="210.90" stroke="#000" stroke-width="1.2"/>
<path d="M394.40,210.90L392.30,209.85L392.30,211.95Z" fill="#000" stroke="none" stroke-width="1"/>
<line x1="380.80" y1="217.60" x2="429.90" y2="217.60" stroke="#222" stroke-width="0.7"/>
<circle cx="382.40" cy="217.60" r="0.45" fill="#222"/>
<circle cx="385.60" cy="217.60" r="0.45" fill="#222"/>
<circle cx="388.80" cy="217.60" r="0.45" fill="#222"/>
<circle cx="392.00" cy="217.60" r="0.45" fill="#222"/>
<circle cx="395.20" cy="217.60" r="0.45" fill="#222"/>
<circle cx="398.40" cy="217.60" r="0.45" fill="#222"/>
<circle cx="401.60" cy="217.60" r="0.45" fill="#222"/>
<circle cx="404.80" cy="217.60" r="0.45" fill="#222"/>
<circle cx="408.00" cy="217.60" r="0.45" fill="#222"/>
<circle cx="411.20" cy="217.60" r="0.45" fill="#222"/>
<circle cx="414.40" cy="217.60" r="0.45" fill="#222"/>
<circle cx="417.60" cy="217.60" r="0.45" fill="#222"/>
<circle cx="420.80" cy="217.60" r="0.45" fill="#222"/>
<circle cx="424.00" cy="217.60" r="0.45" fill="#222"/>
<circle cx="427.20" cy="217.60" r="0.45" fill="#222"/>
<rect x="381.20" y="216.40" width="1.60" height="2.40" fill="#111"/>
<rect x="397.60" y="216.10" width="1.40" height="3.00" fill="#111"/>
<rect x="400.70" y="216.30" width="0.90" height="2.60" fill="#111"/>
<rect x="402.40" y="216.30" width="1.20" height="2.60" fill="#111"/>
<rect x="411.00" y="216.60" width="0.80" height="2.00" fill="#111"/>
<rect x="413.50" y="216.60" width="0.80" height="2.00" fill="#111"/>
<rect x="416.00" y="216.60" width="0.80" height="2.00" fill="#111"/>
<rect x="420.50" y="216.70" width="0.80" height="1.80" fill="#111"/>
<rect x="425.50" y="216.70" width="0.80" height="1.80" fill="#111"/>
<rect x="428.80" y="216.70" width="0.80" height="1.80" fill="#111"/>
<rect x="325.70" y="222.40" width="104.20" height="9.50" fill="#f4f4f4"/>
<rect x="325.70" y="233.50" width="104.20" height="8.00" fill="#f4f4f4"/>
<rect x="348.80" y="222.60" width="23.80" height="21.20" rx="2.5" fill="#f5ece0" fill-opacity="0.9"/>
<line x1="325.70" y1="231.40" x2="429.90" y2="231.40" stroke="#8c8cc8" stroke-width="0.6"/>
<path d="M327.00,231.70L327.00,231.20L327.50,231.20L327.50,231.20L328.00,231.20L328.00,231.70ZM334.40,231.70L334.40,230.73L335.05,230.73L335.05,230.31L335.70,230.31L335.70,230.61L336.35,230.61L336.35,230.88L337.00,230.88L337.00,231.70ZM337.50,231.70L337.50,230.28L338.02,230.28L338.02,229.70L338.55,229.70L338.55,229.29L339.08,229.29L339.08,230.29L339.60,230.29L339.60,231.70ZM340.60,231.70L340.60,230.05L341.25,230.05L341.25,229.71L341.90,229.71L341.90,229.64L342.55,229.64L342.55,230.11L343.20,230.11L343.20,231.70ZM344.20,231.70L344.20,229.87L344.85,229.87L344.85,229.39L345.50,229.39L345.50,229.87L346.15,229.87L346.15,230.20L346.80,230.20L346.80,231.70ZM350.50,231.70L350.50,231.20L351.00,231.20L351.00,231.06L351.50,231.06L351.50,231.70ZM358.30,231.70L358.30,229.51L358.90,229.51L358.90,228.58L359.50,228.58L359.50,228.20L360.10,228.20L360.10,228.29L360.70,228.29L360.70,228.44L361.30,228.44L361.30,229.52L361.90,229.52L361.90,231.70ZM363.50,231.70L363.50,229.78L364.12,229.78L364.12,228.39L364.74,228.39L364.74,228.55L365.36,228.55L365.36,228.49L365.98,228.49L365.98,229.55L366.60,229.55L366.60,231.70ZM367.60,231.70L367.60,230.61L368.10,230.61L368.10,230.63L368.60,230.63L368.60,231.70ZM373.80,231.70L373.80,230.54L374.50,230.54L374.50,230.28L375.20,230.28L375.20,230.67L375.90,230.67L375.90,231.70ZM376.00,231.70L376.00,231.07L376.75,231.07L376.75,231.08L377.50,231.08L377.50,231.70ZM379.00,231.70L379.00,230.77L379.67,230.77L379.67,230.62L380.33,230.62L380.33,230.89L381.00,230.89L381.00,231.70ZM383.30,231.70L383.30,230.71L383.95,230.71L383.95,230.63L384.60,230.63L384.60,230.39L385.25,230.39L385.25,230.81L385.90,230.81L385.90,231.70ZM403.00,231.70L403.00,231.17L403.67,231.17L403.67,231.02L404.33,231.02L404.33,231.10L405.00,231.10L405.00,231.70ZM407.20,231.70L407.20,230.97L407.87,230.97L407.87,230.70L408.53,230.70L408.53,230.87L409.20,230.87L409.20,231.70ZM412.30,231.70L412.30,231.20L412.94,231.20L412.94,231.09L413.58,231.09L413.58,230.94L414.22,230.94L414.22,231.06L414.86,231.06L414.86,231.20L415.50,231.20L415.50,231.70ZM416.50,231.70L416.50,231.20L417.11,231.20L417.11,231.01L417.72,231.01L417.72,230.98L418.33,230.98L418.32,230.71L418.93,230.71L418.93,230.55L419.54,230.55L419.54,230.73L420.15,230.73L420.15,230.61L420.76,230.61L420.76,230.56L421.37,230.56L421.37,230.92L421.98,230.92L421.98,230.96L422.58,230.96L422.58,230.90L423.19,230.90L423.19,231.14L423.80,231.14L423.80,231.70ZM427.90,231.70L427.90,230.29L428.45,230.29L428.45,230.52L429.00,230.52L429.00,231.70Z" fill="#1f1f86" stroke="none" stroke-width="1"/>
<line x1="325.70" y1="240.90" x2="429.90" y2="240.90" stroke="#8c8cc8" stroke-width="0.6"/>
<path d="M326.60,241.20L326.60,239.64L327.25,239.64L327.25,238.55L327.90,238.55L327.90,238.60L328.55,238.60L328.55,239.10L329.20,239.10L329.20,241.20ZM329.20,241.20L329.20,240.51L329.79,240.51L329.79,240.22L330.37,240.22L330.37,239.88L330.96,239.88L330.96,239.86L331.54,239.86L331.54,240.06L332.13,240.06L332.13,240.05L332.71,240.05L332.71,240.48L333.30,240.48L333.30,241.20ZM333.30,241.20L333.30,240.16L333.92,240.16L333.92,240.04L334.53,240.04L334.53,239.85L335.15,239.85L335.15,239.48L335.77,239.48L335.77,239.92L336.38,239.92L336.38,240.33L337.00,240.33L337.00,241.20ZM337.50,241.20L337.50,240.32L338.10,240.32L338.10,240.02L338.70,240.02L338.70,240.11L339.30,240.11L339.30,239.92L339.90,239.92L339.90,240.01L340.50,240.01L340.50,240.51L341.10,240.51L341.10,241.20ZM342.70,241.20L342.70,240.61L343.20,240.61L343.20,240.70L343.70,240.70L343.70,241.20ZM346.20,241.20L346.20,240.67L346.70,240.67L346.70,240.70L347.20,240.70L347.20,241.20ZM349.40,241.20L349.40,239.79L350.02,239.79L350.02,238.57L350.63,238.57L350.63,238.78L351.25,238.78L351.25,238.25L351.87,238.25L351.87,239.00L352.48,239.00L352.48,239.56L353.10,239.56L353.10,241.20ZM353.10,241.20L353.10,239.08L353.69,239.08L353.69,238.33L354.27,238.33L354.27,238.57L354.86,238.57L354.86,237.93L355.44,237.93L355.44,238.00L356.03,238.00L356.03,238.82L356.61,238.82L356.61,239.60L357.20,239.60L357.20,241.20ZM357.20,241.20L357.20,237.58L357.82,237.58L357.82,236.71L358.44,236.71L358.44,236.91L359.06,236.91L359.06,236.80L359.68,236.80L359.68,238.33L360.30,238.33L360.30,241.20ZM360.30,241.20L360.30,238.87L360.94,238.87L360.94,238.26L361.58,238.26L361.58,238.48L362.22,238.48L362.22,237.92L362.86,237.92L362.86,239.41L363.50,239.41L363.50,241.20ZM363.50,241.20L363.50,238.72L364.12,238.72L364.12,238.07L364.74,238.07L364.74,236.79L365.36,236.79L365.36,237.96L365.98,237.96L365.98,238.49L366.60,238.49L366.60,241.20ZM366.60,241.20L366.60,240.10L367.18,240.10L367.18,239.36L367.75,239.36L367.75,238.92L368.32,238.92L368.32,238.91L368.90,238.91L368.90,238.97L369.47,238.97L369.48,239.07L370.05,239.07L370.05,239.38L370.62,239.38L370.62,239.87L371.20,239.87L371.20,241.20ZM372.80,241.20L372.80,239.08L373.50,239.08L373.50,238.06L374.20,238.06L374.20,238.95L374.90,238.95L374.90,241.20ZM375.90,241.20L375.90,239.67L376.51,239.67L376.51,238.96L377.13,238.96L377.13,239.34L377.74,239.34L377.74,239.21L378.36,239.21L378.36,238.84L378.97,238.84L378.97,239.22L379.59,239.22L379.59,240.08L380.20,240.08L380.20,241.20ZM383.30,241.20L383.30,239.85L383.92,239.85L383.92,239.15L384.54,239.15L384.54,239.35L385.16,239.35L385.16,239.53L385.78,239.53L385.78,239.91L386.40,239.91L386.40,241.20ZM391.00,241.20L391.00,237.53L391.52,237.53L391.52,237.25L392.05,237.25L392.05,237.19L392.58,237.19L392.58,238.38L393.10,238.38L393.10,241.20ZM393.10,241.20L393.10,235.75L393.72,235.75L393.72,233.98L394.34,233.98L394.34,234.03L394.96,234.03L394.96,234.20L395.58,234.20L395.58,236.86L396.20,236.86L396.20,241.20ZM399.90,241.20L399.90,240.02L400.52,240.02L400.52,239.13L401.14,239.13L401.14,239.24L401.76,239.24L401.76,239.57L402.38,239.57L402.38,239.74L403.00,239.74L403.00,241.20ZM404.00,241.20L404.00,239.21L404.64,239.21L404.64,238.52L405.28,238.52L405.28,238.56L405.92,238.56L405.92,238.63L406.56,238.63L406.56,239.33L407.20,239.33L407.20,241.20ZM407.20,241.20L407.20,236.26L407.87,236.26L407.87,233.50L408.53,233.50L408.53,236.19L409.20,236.19L409.20,241.20ZM409.20,241.20L409.20,239.16L409.80,239.16L409.80,237.86L410.40,237.86L410.40,236.98L411.00,236.98L411.00,237.68L411.60,237.68L411.60,237.19L412.20,237.19L412.20,238.13L412.80,238.13L412.80,238.90L413.40,238.90L413.40,241.20ZM414.40,241.20L414.40,239.64L415.02,239.64L415.02,238.75L415.64,238.75L415.64,238.71L416.26,238.71L416.26,239.08L416.88,239.08L416.88,239.50L417.50,239.50L417.50,241.20ZM417.50,241.20L417.50,240.42L418.08,240.42L418.08,240.06L418.66,240.06L418.66,239.59L419.23,239.59L419.23,239.69L419.81,239.69L419.81,239.53L420.39,239.53L420.39,239.81L420.97,239.81L420.97,239.61L421.54,239.61L421.54,239.96L422.12,239.96L422.12,240.45L422.70,240.45L422.70,241.20ZM425.80,241.20L425.80,239.90L426.39,239.90L426.39,239.61L426.97,239.61L426.97,239.47L427.56,239.47L427.56,239.46L428.14,239.46L428.14,239.63L428.73,239.63L428.73,239.76L429.31,239.76L429.31,240.00L429.90,240.00L429.90,241.20Z" fill="#1f1f86" stroke="none" stroke-width="1"/>
<rect x="348.80" y="222.60" width="23.80" height="21.20" rx="2.5" fill="none" stroke="#d9575c" stroke-width="0.8"/>
<text x="317.50" y="226.47" font-size="4.9" fill="#333" textLength="8.20" lengthAdjust="spacingAndGlyphs" stroke="#333" stroke-width="0.073">3.20</text>
<text x="323.20" y="232.57" font-size="4.9" fill="#333" textLength="2.10" lengthAdjust="spacingAndGlyphs" stroke="#333" stroke-width="0.073">0</text>
<text x="317.50" y="236.87" font-size="4.9" fill="#333" textLength="8.20" lengthAdjust="spacingAndGlyphs" stroke="#333" stroke-width="0.073">3.20</text>
<text x="323.20" y="242.97" font-size="4.9" fill="#333" textLength="2.10" lengthAdjust="spacingAndGlyphs" stroke="#333" stroke-width="0.073">0</text>
<text x="435.40" y="232.00" font-size="5.6" fill="#222" textLength="8.40" lengthAdjust="spacingAndGlyphs" stroke="#222" stroke-width="0.084">Utx</text>
<text x="443.80" y="229.60" font-size="3.2" fill="#222" stroke="#222" stroke-width="0.048">+/+</text>
<text x="435.40" y="241.20" font-size="5.6" fill="#222" textLength="8.40" lengthAdjust="spacingAndGlyphs" stroke="#222" stroke-width="0.084">Utx</text>
<text x="443.80" y="238.80" font-size="3.2" fill="#222" stroke="#222" stroke-width="0.048">Δ/Δ</text>
<rect x="420.00" y="244.90" width="9.90" height="1.20" fill="#222"/>
<text x="420.00" y="251.50" font-size="5.6" fill="#222" textLength="9.90" lengthAdjust="spacingAndGlyphs" stroke="#222" stroke-width="0.084">1 kb</text>
<text x="7.23" y="259.55" font-size="12.222" fill="#000" font-weight="bold" stroke="#000" stroke-width="0.5">F</text>
<text x="23.00" y="271.57" font-size="5.8" fill="#b8405e" textLength="21.10" lengthAdjust="spacingAndGlyphs" stroke="#b8405e" stroke-width="0.087">RNA-seq</text>
<text x="17.00" y="277.80" font-size="5.8" fill="#b8405e" textLength="10.00" lengthAdjust="spacingAndGlyphs" stroke="#b8405e" stroke-width="0.087">LSK</text>
<text x="28.60" y="277.80" font-size="5.8" fill="#b8405e" textLength="8.00" lengthAdjust="spacingAndGlyphs" font-style="italic" stroke="#b8405e" stroke-width="0.087">Utx</text>
<text x="36.80" y="275.30" font-size="2.8" fill="#b8405e" stroke="#b8405e" stroke-width="0.042">Δ/Δ</text>
<text x="41.60" y="277.80" font-size="5.8" fill="#b8405e" textLength="8.80" lengthAdjust="spacingAndGlyphs" stroke="#b8405e" stroke-width="0.087">Up</text>
<text x="16.00" y="284.20" font-size="5.8" fill="#b8405e" stroke="#b8405e" stroke-width="0.087" textLength="35.00" lengthAdjust="spacingAndGlyphs">(Log<tspan font-size="3.48" dy="1.28">2</tspan><tspan dy="-1.28">FC &gt; 0.5)</tspan></text>
<text x="67.00" y="288.17" font-size="5.8" fill="#e0962a" textLength="23.40" lengthAdjust="spacingAndGlyphs" stroke="#e0962a" stroke-width="0.087">Aging Up</text>
<text x="70.00" y="294.27" font-size="5.8" fill="#e0962a" textLength="17.50" lengthAdjust="spacingAndGlyphs" stroke="#e0962a" stroke-width="0.087">Top200</text>
<circle cx="38.60" cy="308.90" r="20.00" fill="#d68aa2" stroke="none" stroke-width="1"/>
<circle cx="63.00" cy="309.00" r="15.00" fill="#e19424" stroke="none" stroke-width="1"/>
<circle cx="63.00" cy="309.00" r="15.00" fill="#cc5b1f" stroke="none" stroke-width="1" clip-path="url(#cbF1)"/>
<text x="33.00" y="310.60" font-size="5.6" fill="#222" textLength="11.60" lengthAdjust="spacingAndGlyphs" stroke="#222" stroke-width="0.084">1191</text>
<text x="50.40" y="310.60" font-size="5.6" fill="#222" textLength="6.90" lengthAdjust="spacingAndGlyphs" stroke="#222" stroke-width="0.084">55</text>
<text x="61.00" y="310.60" font-size="5.6" fill="#222" textLength="9.20" lengthAdjust="spacingAndGlyphs" stroke="#222" stroke-width="0.084">145</text>
<line x1="53.50" y1="314.80" x2="53.50" y2="328.00" stroke="#000" stroke-width="1.1"/>
<path d="M53.50,331.40L51.26,326.92L55.74,326.92Z" fill="#000" stroke="none" stroke-width="1"/>
<text x="42.00" y="337.21" font-size="5.9" fill="#222" textLength="23.00" lengthAdjust="spacingAndGlyphs" stroke="#222" stroke-width="0.089">Up genes</text>
<text x="108.30" y="270.67" font-size="5.8" fill="#4a5a90" textLength="21.10" lengthAdjust="spacingAndGlyphs" stroke="#4a5a90" stroke-width="0.087">RNA-seq</text>
<text x="98.00" y="277.00" font-size="5.8" fill="#4a5a90" textLength="10.00" lengthAdjust="spacingAndGlyphs" stroke="#4a5a90" stroke-width="0.087">LSK</text>
<text x="109.50" y="277.00" font-size="5.8" fill="#4a5a90" textLength="8.00" lengthAdjust="spacingAndGlyphs" font-style="italic" stroke="#4a5a90" stroke-width="0.087">Utx</text>
<text x="117.70" y="274.50" font-size="2.8" fill="#4a5a90" stroke="#4a5a90" stroke-width="0.042">Δ/Δ</text>
<text x="122.60" y="277.00" font-size="5.8" fill="#4a5a90" textLength="15.40" lengthAdjust="spacingAndGlyphs" stroke="#4a5a90" stroke-width="0.087">Down</text>
<text x="99.20" y="283.30" font-size="5.8" fill="#4a5a90" stroke="#4a5a90" stroke-width="0.087" textLength="37.90" lengthAdjust="spacingAndGlyphs">(Log<tspan font-size="3.48" dy="1.28">2</tspan><tspan dy="-1.28">FC &lt; –0.5)</tspan></text>
<text x="162.40" y="288.97" font-size="5.8" fill="#7a3d8a" textLength="29.60" lengthAdjust="spacingAndGlyphs" stroke="#7a3d8a" stroke-width="0.087">Aging Down</text>
<text x="168.40" y="295.17" font-size="5.8" fill="#7a3d8a" textLength="17.80" lengthAdjust="spacingAndGlyphs" stroke="#7a3d8a" stroke-width="0.087">Top200</text>
<circle cx="136.00" cy="307.00" r="21.80" fill="#a6b0c9" stroke="none" stroke-width="1"/>
<circle cx="159.50" cy="307.00" r="12.90" fill="#58256f" stroke="none" stroke-width="1"/>
<circle cx="159.50" cy="307.00" r="12.90" fill="#3f2063" stroke="none" stroke-width="1" clip-path="url(#cbF2)"/>
<text x="127.90" y="309.00" font-size="5.6" fill="#222" textLength="12.50" lengthAdjust="spacingAndGlyphs" stroke="#222" stroke-width="0.084">1914</text>
<text x="150.60" y="309.00" font-size="5.6" fill="#ddd" textLength="5.70" lengthAdjust="spacingAndGlyphs" stroke="#ddd" stroke-width="0.084">73</text>
<text x="160.20" y="309.00" font-size="5.6" fill="#ddd" textLength="8.60" lengthAdjust="spacingAndGlyphs" stroke="#ddd" stroke-width="0.084">127</text>
<line x1="153.50" y1="311.50" x2="153.50" y2="328.00" stroke="#000" stroke-width="1.1"/>
<path d="M153.50,331.40L151.26,326.92L155.74,326.92Z" fill="#000" stroke="none" stroke-width="1"/>
<text x="138.70" y="337.21" font-size="5.9" fill="#222" textLength="30.10" lengthAdjust="spacingAndGlyphs" stroke="#222" stroke-width="0.089">Down genes</text>
<text x="207.60" y="259.85" font-size="12.222" fill="#000" font-weight="bold" stroke="#000" stroke-width="0.5">G</text>
<text x="236.20" y="272.28" font-size="7.3" fill="#222" textLength="47.60" lengthAdjust="spacingAndGlyphs" stroke="#222" stroke-width="0.109">KMT2D peaks</text>
<text x="239.80" y="280.98" font-size="7.3" fill="#222" textLength="41.00" lengthAdjust="spacingAndGlyphs" stroke="#222" stroke-width="0.109">(TSS ± 5 kb)</text>
<rect x="262.80" y="302.80" width="9.90" height="42.60" fill="#66a3dd"/>
<line x1="241.20" y1="287.00" x2="241.20" y2="345.95" stroke="#000" stroke-width="1.1"/>
<line x1="240.65" y1="345.40" x2="278.70" y2="345.40" stroke="#000" stroke-width="1.1"/>
<line x1="251.90" y1="345.40" x2="251.90" y2="346.80" stroke="#000" stroke-width="0.8"/>
<line x1="267.80" y1="345.40" x2="267.80" y2="346.80" stroke="#000" stroke-width="0.8"/>
<line x1="239.40" y1="345.40" x2="241.20" y2="345.40" stroke="#000" stroke-width="0.8"/>
<text x="234.80" y="347.30" font-size="5.4" fill="#333" text-anchor="end" stroke="#333" stroke-width="0.081">0</text>
<line x1="239.40" y1="334.02" x2="241.20" y2="334.02" stroke="#000" stroke-width="0.8"/>
<text x="234.80" y="335.92" font-size="5.4" fill="#333" text-anchor="end" stroke="#333" stroke-width="0.081">5</text>
<line x1="239.40" y1="322.64" x2="241.20" y2="322.64" stroke="#000" stroke-width="0.8"/>
<text x="234.80" y="324.54" font-size="5.4" fill="#333" text-anchor="end" stroke="#333" stroke-width="0.081">10</text>
<line x1="239.40" y1="311.26" x2="241.20" y2="311.26" stroke="#000" stroke-width="0.8"/>
<text x="234.80" y="313.16" font-size="5.4" fill="#333" text-anchor="end" stroke="#333" stroke-width="0.081">15</text>
<line x1="239.40" y1="299.88" x2="241.20" y2="299.88" stroke="#000" stroke-width="0.8"/>
<text x="234.80" y="301.78" font-size="5.4" fill="#333" text-anchor="end" stroke="#333" stroke-width="0.081">20</text>
<line x1="239.40" y1="288.50" x2="241.20" y2="288.50" stroke="#000" stroke-width="0.8"/>
<text x="234.80" y="290.40" font-size="5.4" fill="#333" text-anchor="end" stroke="#333" stroke-width="0.081">25</text>
<text transform="translate(223.2,330.2) rotate(-90)" font-size="7.6" fill="#333" stroke="#333" stroke-width="0.12" textLength="28.6" lengthAdjust="spacingAndGlyphs">% of genes</text>
<text transform="translate(255.4,352.0) rotate(-45)" font-size="5.8" fill="#333" text-anchor="end" textLength="23.0" lengthAdjust="spacingAndGlyphs">Up genes</text>
<text transform="translate(271.3,352.4) rotate(-45)" font-size="5.8" fill="#333" text-anchor="end" textLength="29.5" lengthAdjust="spacingAndGlyphs">Down genes</text>
<line x1="308.20" y1="293.60" x2="308.20" y2="341.00" stroke="#000" stroke-width="0.9"/>
<text x="286.90" y="317.97" font-size="5.8" fill="#222" textLength="18.50" lengthAdjust="spacingAndGlyphs" stroke="#222" stroke-width="0.087">KMT2D</text>
<text x="355.40" y="279.90" font-size="5.4" fill="#222" textLength="12.60" lengthAdjust="spacingAndGlyphs" font-style="italic" stroke="#222" stroke-width="0.081">Rgs2</text>
<line x1="374.30" y1="290.00" x2="374.30" y2="282.80" stroke="#000" stroke-width="0.8"/>
<line x1="374.30" y1="283.40" x2="353.80" y2="283.40" stroke="#000" stroke-width="1.2"/>
<path d="M352.80,283.40L354.90,282.35L354.90,284.45Z" fill="#000" stroke="none" stroke-width="1"/>
<line x1="320.80" y1="287.30" x2="374.30" y2="287.30" stroke="#555" stroke-width="0.8"/>
<circle cx="321.80" cy="287.30" r="0.35" fill="#555"/>
<circle cx="323.80" cy="287.30" r="0.35" fill="#555"/>
<circle cx="325.80" cy="287.30" r="0.35" fill="#555"/>
<circle cx="327.80" cy="287.30" r="0.35" fill="#555"/>
<circle cx="329.80" cy="287.30" r="0.35" fill="#555"/>
<circle cx="331.80" cy="287.30" r="0.35" fill="#555"/>
<circle cx="333.80" cy="287.30" r="0.35" fill="#555"/>
<circle cx="335.80" cy="287.30" r="0.35" fill="#555"/>
<circle cx="337.80" cy="287.30" r="0.35" fill="#555"/>
<circle cx="339.80" cy="287.30" r="0.35" fill="#555"/>
<circle cx="341.80" cy="287.30" r="0.35" fill="#555"/>
<circle cx="343.80" cy="287.30" r="0.35" fill="#555"/>
<circle cx="345.80" cy="287.30" r="0.35" fill="#555"/>
<circle cx="347.80" cy="287.30" r="0.35" fill="#555"/>
<circle cx="349.80" cy="287.30" r="0.35" fill="#555"/>
<circle cx="351.80" cy="287.30" r="0.35" fill="#555"/>
<circle cx="353.80" cy="287.30" r="0.35" fill="#555"/>
<circle cx="355.80" cy="287.30" r="0.35" fill="#555"/>
<circle cx="357.80" cy="287.30" r="0.35" fill="#555"/>
<circle cx="359.80" cy="287.30" r="0.35" fill="#555"/>
<circle cx="361.80" cy="287.30" r="0.35" fill="#555"/>
<circle cx="363.80" cy="287.30" r="0.35" fill="#555"/>
<circle cx="365.80" cy="287.30" r="0.35" fill="#555"/>
<circle cx="367.80" cy="287.30" r="0.35" fill="#555"/>
<circle cx="369.80" cy="287.30" r="0.35" fill="#555"/>
<circle cx="371.80" cy="287.30" r="0.35" fill="#555"/>
<rect x="326.50" y="285.60" width="3.50" height="3.40" fill="#000"/>
<rect x="341.50" y="285.60" width="1.90" height="3.40" fill="#000"/>
<rect x="345.70" y="285.60" width="1.60" height="3.40" fill="#000"/>
<rect x="371.50" y="285.60" width="2.80" height="3.40" fill="#000"/>
<rect x="320.00" y="293.00" width="118.00" height="8.60" fill="#f5f5f5"/>
<rect x="375.00" y="291.20" width="12.70" height="14.60" rx="2.5" fill="#f5ece0" fill-opacity="0.9"/>
<line x1="320.00" y1="301.20" x2="438.00" y2="301.20" stroke="#8c8cc8" stroke-width="0.6"/>
<path d="M321.00,301.50L321.00,301.00L321.50,300.98L322.00,301.00L322.00,301.50ZM326.00,301.50L326.00,301.00L326.50,301.00L327.00,301.00L327.00,301.50ZM331.00,301.50L331.00,301.00L331.50,301.00L332.00,301.00L332.00,301.50ZM336.00,301.50L336.00,301.00L336.50,301.00L337.00,301.00L337.00,301.50ZM343.00,301.50L343.00,301.00L343.50,301.00L344.00,301.00L344.00,301.50ZM348.00,301.50L348.00,301.00L348.50,301.00L349.00,301.00L349.00,301.50ZM352.00,301.50L352.00,301.00L352.50,301.00L353.00,301.00L353.00,301.50ZM356.00,301.50L356.00,301.00L356.50,301.00L357.00,301.00L357.50,301.00L357.50,301.50ZM358.50,301.50L358.50,301.00L359.00,300.51L359.50,300.49L360.00,300.93L360.50,301.00L360.50,301.50ZM361.00,301.50L361.00,301.00L361.50,300.20L362.00,300.07L362.50,300.46L363.00,301.00L363.00,301.50ZM364.00,301.50L364.00,301.00L364.50,301.00L365.00,300.88L365.50,300.72L366.00,301.00L366.00,301.50ZM367.00,301.50L367.00,301.00L367.50,301.00L368.00,300.63L368.50,300.44L369.00,300.73L369.50,300.94L370.00,301.00L370.00,301.50ZM371.00,301.50L371.00,300.97L371.50,300.86L372.00,300.23L372.50,299.79L373.00,300.33L373.50,299.46L374.00,299.38L374.50,300.45L375.00,300.97L375.00,301.50ZM375.50,301.50L375.50,300.56L376.00,299.50L376.50,297.34L377.00,298.09L377.50,298.62L378.00,297.95L378.50,294.99L379.00,293.00L379.50,295.20L380.00,295.89L380.50,296.36L381.00,296.32L381.50,298.30L382.00,297.68L382.50,298.26L383.00,298.59L383.50,299.75L384.00,300.06L384.50,300.10L385.00,299.86L385.50,300.56L386.00,300.51L386.50,300.81L387.00,301.00L387.50,301.00L387.50,301.50ZM391.00,301.50L391.00,301.00L391.50,301.00L392.00,300.99L392.50,301.00L393.00,301.00L393.00,301.50ZM395.00,301.50L395.00,301.00L395.50,301.00L396.00,301.00L396.00,301.50ZM400.00,301.50L400.00,301.00L400.50,301.00L401.00,301.00L401.00,301.50ZM413.00,301.50L413.00,301.00L413.50,301.00L414.00,301.00L414.00,301.50ZM420.00,301.50L420.00,301.00L420.50,301.00L421.00,301.00L421.00,301.50ZM428.00,301.50L428.00,301.00L428.50,300.89L429.00,300.62L429.50,300.68L430.00,300.36L430.50,300.80L431.00,300.58L431.50,300.30L432.00,299.89L432.50,299.95L433.00,299.89L433.50,299.35L434.00,298.24L434.50,297.94L435.00,298.25L435.50,299.16L436.00,299.86L436.50,299.40L437.00,300.39L437.50,300.94L437.50,301.50Z" fill="#1f1f86" stroke="none" stroke-width="1"/>
<rect x="375.00" y="291.20" width="12.70" height="14.60" rx="2.5" fill="none" stroke="#d9575c" stroke-width="0.8"/>
<text x="310.00" y="296.47" font-size="4.9" fill="#333" textLength="8.30" lengthAdjust="spacingAndGlyphs" stroke="#333" stroke-width="0.073">1.87</text>
<text x="316.20" y="302.97" font-size="4.9" fill="#333" textLength="2.10" lengthAdjust="spacingAndGlyphs" stroke="#333" stroke-width="0.073">0</text>
<text x="440.00" y="300.60" font-size="5.4" fill="#222" textLength="18.80" lengthAdjust="spacingAndGlyphs" stroke="#222" stroke-width="0.081">(ref. 62)</text>
<rect x="410.40" y="306.40" width="26.60" height="1.20" fill="#222"/>
<text x="418.50" y="313.40" font-size="5.6" fill="#222" textLength="10.30" lengthAdjust="spacingAndGlyphs" stroke="#222" stroke-width="0.084">1 kb</text>
<text x="357.70" y="317.60" font-size="5.4" fill="#222" textLength="16.10" lengthAdjust="spacingAndGlyphs" font-style="italic" stroke="#222" stroke-width="0.081">Dusp1</text>
<line x1="377.30" y1="326.50" x2="377.30" y2="320.20" stroke="#000" stroke-width="0.8"/>
<line x1="377.30" y1="320.80" x2="356.50" y2="320.80" stroke="#000" stroke-width="1.2"/>
<path d="M355.50,320.80L357.60,319.75L357.60,321.85Z" fill="#000" stroke="none" stroke-width="1"/>
<line x1="320.30" y1="325.40" x2="377.30" y2="325.40" stroke="#555" stroke-width="0.8"/>
<circle cx="321.30" cy="325.40" r="0.35" fill="#555"/>
<circle cx="323.30" cy="325.40" r="0.35" fill="#555"/>
<circle cx="325.30" cy="325.40" r="0.35" fill="#555"/>
<circle cx="327.30" cy="325.40" r="0.35" fill="#555"/>
<circle cx="329.30" cy="325.40" r="0.35" fill="#555"/>
<circle cx="331.30" cy="325.40" r="0.35" fill="#555"/>
<circle cx="333.30" cy="325.40" r="0.35" fill="#555"/>
<circle cx="335.30" cy="325.40" r="0.35" fill="#555"/>
<circle cx="337.30" cy="325.40" r="0.35" fill="#555"/>
<circle cx="339.30" cy="325.40" r="0.35" fill="#555"/>
<circle cx="341.30" cy="325.40" r="0.35" fill="#555"/>
<circle cx="343.30" cy="325.40" r="0.35" fill="#555"/>
<circle cx="345.30" cy="325.40" r="0.35" fill="#555"/>
<circle cx="347.30" cy="325.40" r="0.35" fill="#555"/>
<circle cx="349.30" cy="325.40" r="0.35" fill="#555"/>
<circle cx="351.30" cy="325.40" r="0.35" fill="#555"/>
<circle cx="353.30" cy="325.40" r="0.35" fill="#555"/>
<circle cx="355.30" cy="325.40" r="0.35" fill="#555"/>
<circle cx="357.30" cy="325.40" r="0.35" fill="#555"/>
<circle cx="359.30" cy="325.40" r="0.35" fill="#555"/>
<circle cx="361.30" cy="325.40" r="0.35" fill="#555"/>
<circle cx="363.30" cy="325.40" r="0.35" fill="#555"/>
<circle cx="365.30" cy="325.40" r="0.35" fill="#555"/>
<circle cx="367.30" cy="325.40" r="0.35" fill="#555"/>
<circle cx="369.30" cy="325.40" r="0.35" fill="#555"/>
<circle cx="371.30" cy="325.40" r="0.35" fill="#555"/>
<circle cx="373.30" cy="325.40" r="0.35" fill="#555"/>
<circle cx="375.30" cy="325.40" r="0.35" fill="#555"/>
<rect x="320.30" y="324.00" width="3.90" height="2.80" fill="#000"/>
<rect x="326.50" y="323.00" width="8.10" height="4.80" fill="#000"/>
<rect x="342.70" y="323.00" width="4.60" height="4.80" fill="#000"/>
<rect x="356.50" y="323.00" width="3.00" height="4.80" fill="#000"/>
<rect x="365.80" y="323.00" width="8.00" height="4.80" fill="#000"/>
<rect x="373.80" y="323.90" width="3.50" height="3.00" fill="#000"/>
<rect x="320.00" y="331.00" width="118.00" height="10.00" fill="#f5f5f5"/>
<rect x="369.20" y="329.50" width="22.60" height="14.80" rx="2.5" fill="#f5ece0" fill-opacity="0.9"/>
<line x1="320.00" y1="340.70" x2="438.00" y2="340.70" stroke="#8c8cc8" stroke-width="0.6"/>
<path d="M321.00,341.00L321.00,340.50L321.50,340.50L322.00,340.50L322.00,341.00ZM324.00,341.00L324.00,340.50L324.50,340.50L325.00,340.50L325.00,341.00ZM327.00,341.00L327.00,340.50L327.50,340.50L328.00,340.50L328.00,341.00ZM332.00,341.00L332.00,340.50L332.50,340.50L333.00,340.50L333.00,341.00ZM336.00,341.00L336.00,340.50L336.50,340.43L337.00,340.50L337.50,340.50L337.50,341.00ZM340.00,341.00L340.00,340.50L340.50,340.50L341.00,340.50L341.00,341.00ZM343.00,341.00L343.00,340.50L343.50,340.50L344.00,340.50L344.00,341.00ZM346.00,341.00L346.00,340.50L346.50,340.50L347.00,340.27L347.50,340.50L348.00,340.50L348.00,341.00ZM350.00,341.00L350.00,340.50L350.50,340.37L351.00,340.50L351.00,341.00ZM353.00,341.00L353.00,340.50L353.50,340.18L354.00,340.20L354.50,340.25L355.00,340.50L355.00,341.00ZM356.00,341.00L356.00,340.50L356.50,340.45L357.00,339.75L357.50,339.55L358.00,340.02L358.50,340.16L359.00,339.77L359.50,340.21L360.00,339.52L360.50,339.89L361.00,340.12L361.50,340.41L362.00,340.50L362.00,341.00ZM362.50,341.00L362.50,340.37L363.00,340.27L363.50,339.90L364.00,339.72L364.50,340.27L365.00,340.48L365.00,341.00ZM366.00,341.00L366.00,340.40L366.50,340.10L367.00,339.54L367.50,339.30L368.00,340.07L368.50,339.73L369.00,340.48L369.00,341.00ZM369.50,341.00L369.50,340.08L370.00,339.25L370.50,337.39L371.00,336.73L371.50,337.27L372.00,337.13L372.50,337.69L373.00,335.56L373.50,338.01L374.00,337.37L374.50,337.80L375.00,337.42L375.50,336.89L376.00,337.45L376.50,338.32L377.00,337.49L377.50,337.09L378.00,337.22L378.50,338.15L379.00,336.50L379.50,337.92L380.00,336.29L380.50,334.17L381.00,334.36L381.50,336.43L382.00,335.68L382.50,337.09L383.00,337.35L383.50,337.53L384.00,337.02L384.50,337.86L385.00,338.64L385.50,338.53L386.00,338.96L386.50,339.42L387.00,339.00L387.50,339.07L388.00,339.41L388.50,339.09L389.00,340.05L389.50,339.59L390.00,339.48L390.50,340.17L391.00,340.50L391.00,341.00ZM391.50,341.00L391.50,340.50L392.00,340.31L392.50,340.39L393.00,340.50L393.00,341.00ZM394.00,341.00L394.00,340.50L394.50,340.50L395.00,340.46L395.50,340.50L396.00,340.50L396.00,341.00ZM397.00,341.00L397.00,340.50L397.50,340.50L398.00,340.50L398.00,341.00ZM400.00,341.00L400.00,340.50L400.50,340.50L401.00,340.50L401.00,341.00ZM404.00,341.00L404.00,340.50L404.50,340.46L405.00,340.50L405.00,341.00ZM407.00,341.00L407.00,340.50L407.50,340.50L408.00,340.49L408.50,340.50L409.00,340.50L409.00,341.00ZM411.00,341.00L411.00,340.50L411.50,340.50L412.00,340.50L412.00,341.00ZM415.00,341.00L415.00,340.50L415.50,340.50L416.00,340.50L416.00,341.00ZM420.00,341.00L420.00,340.50L420.50,340.50L421.00,340.50L421.00,341.00ZM426.00,341.00L426.00,340.50L426.50,340.50L427.00,340.50L427.00,341.00ZM431.00,341.00L431.00,340.50L431.50,340.50L432.00,340.50L432.00,341.00Z" fill="#1f1f86" stroke="none" stroke-width="1"/>
<rect x="369.20" y="329.50" width="22.60" height="14.80" rx="2.5" fill="none" stroke="#d9575c" stroke-width="0.8"/>
<text x="310.00" y="336.07" font-size="4.9" fill="#333" textLength="8.30" lengthAdjust="spacingAndGlyphs" stroke="#333" stroke-width="0.073">1.87</text>
<text x="316.20" y="342.37" font-size="4.9" fill="#333" textLength="2.10" lengthAdjust="spacingAndGlyphs" stroke="#333" stroke-width="0.073">0</text>
<text x="440.00" y="340.30" font-size="5.4" fill="#222" textLength="18.80" lengthAdjust="spacingAndGlyphs" stroke="#222" stroke-width="0.081">(ref. 62)</text>
<rect x="410.40" y="344.40" width="26.60" height="1.20" fill="#222"/>
<text x="418.50" y="351.40" font-size="5.6" fill="#222" textLength="10.30" lengthAdjust="spacingAndGlyphs" stroke="#222" stroke-width="0.084">1 kb</text>
<text x="6.83" y="392.75" font-size="12.222" fill="#000" font-weight="bold" stroke="#000" stroke-width="0.5">H</text>
<rect x="45.50" y="400.50" width="4.50" height="3.25" fill="#c3176e"/>
<text x="53.25" y="403.89" font-size="5.4" fill="#222" stroke="#222" stroke-width="0.081">Up genes</text>
<rect x="45.50" y="406.50" width="4.50" height="3.25" fill="#6aade2"/>
<text x="53.25" y="409.89" font-size="5.4" fill="#222" stroke="#222" stroke-width="0.081">Down genes</text>
<rect x="45.50" y="412.75" width="4.50" height="3.25" fill="#253a6c"/>
<text x="53.25" y="416.14" font-size="5.4" fill="#222" textLength="68.50" lengthAdjust="spacingAndGlyphs" stroke="#222" stroke-width="0.081">KMT2D peak-positive genes</text>
<rect x="45.00" y="428.26" width="8.00" height="59.74" fill="#c3176e"/>
<rect x="53.75" y="470.74" width="7.50" height="17.26" fill="#6aade2"/>
<rect x="66.25" y="449.50" width="8.00" height="38.50" fill="#c3176e"/>
<rect x="75.00" y="457.47" width="8.00" height="30.53" fill="#6aade2"/>
<rect x="88.00" y="459.46" width="7.75" height="28.54" fill="#c3176e"/>
<rect x="96.25" y="426.14" width="8.00" height="61.86" fill="#6aade2"/>
<rect x="109.25" y="484.28" width="7.75" height="3.72" fill="#c3176e"/>
<rect x="118.00" y="466.76" width="7.75" height="21.24" fill="#6aade2"/>
<rect x="75.00" y="484.55" width="8.00" height="3.45" fill="#253a6c"/>
<rect x="96.25" y="473.80" width="8.00" height="14.20" fill="#253a6c"/>
<rect x="118.00" y="480.70" width="7.75" height="7.30" fill="#253a6c"/>
<line x1="40.00" y1="419.00" x2="40.00" y2="488.55" stroke="#000" stroke-width="1.1"/>
<line x1="39.45" y1="488.00" x2="130.50" y2="488.00" stroke="#000" stroke-width="1.1"/>
<line x1="38.20" y1="488.00" x2="40.00" y2="488.00" stroke="#000" stroke-width="0.8"/>
<text x="34.00" y="490.00" font-size="5.8" fill="#333" text-anchor="end" stroke="#333" stroke-width="0.087">0</text>
<line x1="38.20" y1="474.73" x2="40.00" y2="474.73" stroke="#000" stroke-width="0.8"/>
<text x="34.00" y="476.73" font-size="5.8" fill="#333" text-anchor="end" stroke="#333" stroke-width="0.087">10</text>
<line x1="38.20" y1="461.45" x2="40.00" y2="461.45" stroke="#000" stroke-width="0.8"/>
<text x="34.00" y="463.45" font-size="5.8" fill="#333" text-anchor="end" stroke="#333" stroke-width="0.087">20</text>
<line x1="38.20" y1="448.18" x2="40.00" y2="448.18" stroke="#000" stroke-width="0.8"/>
<text x="34.00" y="450.18" font-size="5.8" fill="#333" text-anchor="end" stroke="#333" stroke-width="0.087">30</text>
<line x1="38.20" y1="434.90" x2="40.00" y2="434.90" stroke="#000" stroke-width="0.8"/>
<text x="34.00" y="436.90" font-size="5.8" fill="#333" text-anchor="end" stroke="#333" stroke-width="0.087">40</text>
<line x1="38.20" y1="421.62" x2="40.00" y2="421.62" stroke="#000" stroke-width="0.8"/>
<text x="34.00" y="423.62" font-size="5.8" fill="#333" text-anchor="end" stroke="#333" stroke-width="0.087">50</text>
<line x1="53.25" y1="488.00" x2="53.25" y2="489.40" stroke="#000" stroke-width="0.8"/>
<text x="53.25" y="496.30" font-size="5.8" fill="#333" text-anchor="middle" stroke="#333" stroke-width="0.087">0</text>
<line x1="74.50" y1="488.00" x2="74.50" y2="489.40" stroke="#000" stroke-width="0.8"/>
<text x="74.50" y="496.30" font-size="5.8" fill="#333" text-anchor="middle" stroke="#333" stroke-width="0.087">1</text>
<line x1="96.25" y1="488.00" x2="96.25" y2="489.40" stroke="#000" stroke-width="0.8"/>
<text x="96.25" y="496.30" font-size="5.8" fill="#333" text-anchor="middle" stroke="#333" stroke-width="0.087">2</text>
<line x1="117.50" y1="488.00" x2="117.50" y2="489.40" stroke="#000" stroke-width="0.8"/>
<text x="117.50" y="496.30" font-size="5.8" fill="#333" text-anchor="middle" stroke="#333" stroke-width="0.087">3</text>
<text transform="translate(23.4,467.5) rotate(-90)" font-size="7.6" fill="#333" stroke="#333" stroke-width="0.12" textLength="28.7" lengthAdjust="spacingAndGlyphs">% of genes</text>
<text x="49.25" y="506.30" font-size="7.5" fill="#333" textLength="71.50" lengthAdjust="spacingAndGlyphs" stroke="#333" stroke-width="0.112">Overlap of SMARCA4 peak-</text>
<text x="46.25" y="515.80" font-size="7.5" fill="#333" textLength="78.75" lengthAdjust="spacingAndGlyphs" stroke="#333" stroke-width="0.112">positive data sets (TSS ± 5 kb)</text>
<text x="238.00" y="389.20" font-size="6.0" fill="#222" textLength="12.80" lengthAdjust="spacingAndGlyphs" font-style="italic" stroke="#222" stroke-width="0.090">Jund</text>
<line x1="234.60" y1="395.70" x2="234.60" y2="390.40" stroke="#000" stroke-width="0.8"/>
<line x1="234.60" y1="391.00" x2="252.60" y2="391.00" stroke="#000" stroke-width="1.2"/>
<path d="M253.60,391.00L251.50,389.95L251.50,392.05Z" fill="#000" stroke="none" stroke-width="1"/>
<line x1="234.60" y1="395.70" x2="291.80" y2="395.70" stroke="#000" stroke-width="0.8"/>
<rect x="262.30" y="393.40" width="21.20" height="4.60" fill="#000"/>
<rect x="182.70" y="402.40" width="117.00" height="8.10" fill="#f5f5f5"/>
<rect x="182.70" y="411.60" width="117.00" height="8.10" fill="#f5f5f5"/>
<rect x="182.70" y="421.00" width="117.00" height="8.30" fill="#f5f5f5"/>
<rect x="182.70" y="431.20" width="117.00" height="8.40" fill="#f5f5f5"/>
<rect x="181.50" y="412.30" width="21.30" height="20.30" rx="2.5" fill="#f5ece0" fill-opacity="0.9"/>
<rect x="251.90" y="401.20" width="13.20" height="13.00" rx="2.5" fill="#f5ece0" fill-opacity="0.9"/>
<rect x="251.90" y="430.30" width="13.20" height="13.20" rx="2.5" fill="#f5ece0" fill-opacity="0.9"/>
<line x1="182.70" y1="410.20" x2="299.70" y2="410.20" stroke="#bcd8f0" stroke-width="0.6"/>
<path d="M183.00,410.50L183.00,410.00L183.50,410.00L184.00,410.00L184.50,410.00L185.00,410.00L185.50,410.00L186.00,410.00L186.00,410.50ZM186.60,410.50L186.60,409.90L187.10,409.83L187.59,409.00L188.09,408.82L188.58,409.31L189.08,408.76L189.57,408.77L190.07,408.72L190.57,407.88L191.06,409.19L191.56,409.36L192.05,408.39L192.55,409.10L193.05,409.41L193.54,409.37L194.04,409.43L194.53,409.07L195.03,409.71L195.53,409.78L196.02,409.65L196.52,409.76L197.01,409.68L197.51,409.90L198.00,410.00L198.50,410.00L198.50,410.50ZM203.00,410.50L203.00,410.00L203.50,409.94L204.00,410.00L204.00,410.50ZM206.00,410.50L206.00,410.00L206.50,409.98L207.00,410.00L207.00,410.50ZM209.20,410.50L209.20,409.92L209.69,408.74L210.18,408.01L210.67,408.48L211.16,407.20L211.65,407.75L212.15,408.06L212.64,407.72L213.13,408.12L213.62,408.42L214.11,408.79L214.60,409.60L214.60,410.50ZM216.00,410.50L216.00,410.00L216.50,409.81L217.00,410.00L217.00,410.50ZM221.00,410.50L221.00,410.00L221.50,410.00L222.00,410.00L222.00,410.50ZM226.00,410.50L226.00,410.00L226.50,410.00L227.00,410.00L227.00,410.50ZM232.50,410.50L232.50,410.00L232.96,410.00L233.42,409.33L233.88,409.53L234.34,409.78L234.80,410.00L234.80,410.50ZM236.00,410.50L236.00,410.00L236.51,409.57L237.03,409.43L237.54,408.86L238.06,409.54L238.57,409.56L239.09,409.63L239.60,410.00L239.60,410.50ZM241.00,410.50L241.00,410.00L241.50,410.00L242.00,410.00L242.00,410.50ZM247.20,410.50L247.20,410.00L247.71,409.36L248.22,409.68L248.74,409.41L249.25,409.03L249.76,408.90L250.28,409.10L250.79,409.66L251.30,409.92L251.30,410.50ZM253.70,410.50L253.70,407.67L254.19,407.01L254.68,405.11L255.16,403.48L255.65,403.85L256.14,406.69L256.63,406.71L257.12,406.94L257.61,405.47L258.09,406.07L258.58,405.90L259.07,406.93L259.56,408.38L260.05,407.99L260.54,408.26L261.02,409.33L261.51,409.88L262.00,409.97L262.00,410.50ZM262.50,410.50L262.50,410.00L263.00,410.00L263.50,410.00L264.00,410.00L264.00,410.50ZM265.00,410.50L265.00,410.00L265.50,410.00L266.00,409.89L266.50,409.92L267.00,410.00L267.50,410.00L268.00,410.00L268.00,410.50ZM269.00,410.50L269.00,410.00L269.50,410.00L270.00,409.85L270.50,409.76L271.00,409.79L271.50,410.00L272.00,410.00L272.00,410.50ZM273.00,410.50L273.00,410.00L273.50,410.00L274.00,409.85L274.50,409.79L275.00,410.00L275.50,410.00L276.00,410.00L276.00,410.50ZM277.00,410.50L277.00,410.00L277.50,409.96L278.00,409.86L278.50,409.73L279.00,410.00L279.50,409.99L280.00,410.00L280.00,410.50ZM281.00,410.50L281.00,410.00L281.50,410.00L282.00,410.00L282.50,409.96L283.00,410.00L283.50,410.00L284.00,410.00L284.00,410.50ZM287.00,410.50L287.00,410.00L287.50,410.00L288.00,410.00L288.00,410.50ZM292.50,410.50L292.50,409.70L293.01,409.73L293.51,408.73L294.02,408.01L294.53,408.76L295.04,408.72L295.54,407.56L296.05,408.19L296.56,408.01L297.06,407.45L297.57,408.38L298.08,408.83L298.59,408.95L299.09,409.23L299.60,409.76L299.60,410.50Z" fill="#7ab6e6" stroke="none" stroke-width="1"/>
<line x1="182.70" y1="419.40" x2="299.70" y2="419.40" stroke="#f0baba" stroke-width="0.6"/>
<path d="M182.40,419.70L182.40,419.20L182.90,418.93L183.40,418.51L183.90,417.14L184.39,416.95L184.89,415.65L185.39,416.64L185.89,414.66L186.39,412.55L186.89,413.77L187.39,412.37L187.88,412.94L188.38,415.09L188.88,416.57L189.38,414.32L189.88,416.52L190.38,417.06L190.87,415.33L191.37,415.38L191.87,415.74L192.37,415.83L192.87,417.55L193.37,417.67L193.87,417.48L194.36,415.45L194.86,417.27L195.36,417.04L195.86,417.28L196.36,417.16L196.86,417.21L197.36,416.42L197.85,416.93L198.35,416.58L198.85,415.05L199.35,416.99L199.85,415.53L200.35,416.12L200.84,416.85L201.34,417.20L201.84,417.29L202.34,417.92L202.84,418.63L203.34,418.78L203.84,418.82L204.33,418.67L204.83,418.17L205.33,418.59L205.83,418.86L206.33,418.48L206.83,418.15L207.33,418.45L207.82,418.17L208.32,418.70L208.82,418.67L209.32,417.95L209.82,418.57L210.32,418.20L210.81,418.02L211.31,418.19L211.81,418.35L212.31,418.33L212.81,416.83L213.31,417.14L213.81,417.03L214.30,417.99L214.80,417.84L215.30,418.31L215.80,418.84L215.80,419.70ZM217.00,419.70L217.00,419.20L217.50,419.20L218.00,419.20L218.50,419.20L219.00,419.20L219.50,419.20L220.00,419.20L220.00,419.70ZM222.00,419.70L222.00,419.20L222.50,419.20L223.00,419.20L223.50,419.20L224.00,419.20L224.50,419.20L225.00,419.20L225.50,419.20L226.00,419.20L226.00,419.70ZM228.00,419.70L228.00,419.20L228.50,419.20L229.00,419.20L229.50,419.20L230.00,419.01L230.50,419.14L231.00,419.20L231.50,419.20L232.00,419.20L232.00,419.70ZM234.00,419.70L234.00,419.20L234.50,419.20L235.00,419.20L235.50,419.20L236.00,419.01L236.50,419.20L237.00,419.20L237.50,419.20L238.00,419.20L238.00,419.70ZM240.00,419.70L240.00,419.20L240.50,419.20L241.00,419.20L241.50,419.20L242.00,419.01L242.50,419.20L243.00,419.20L243.50,419.20L244.00,419.20L244.00,419.70ZM246.60,419.70L246.60,418.97L247.10,418.43L247.60,418.34L248.10,418.35L248.60,418.15L249.09,417.47L249.59,417.55L250.09,418.47L250.59,418.32L251.09,418.39L251.59,418.07L252.09,418.87L252.59,418.10L253.09,418.60L253.58,418.29L254.08,418.67L254.58,418.69L255.08,417.85L255.58,418.20L256.08,417.67L256.58,417.70L257.08,417.57L257.57,418.28L258.07,417.31L258.57,416.37L259.07,417.00L259.57,417.67L260.07,417.31L260.57,415.93L261.07,416.31L261.57,417.83L262.06,417.95L262.56,417.69L263.06,418.22L263.56,418.73L264.06,418.03L264.56,418.35L265.06,418.57L265.56,418.87L266.06,418.45L266.55,418.24L267.05,418.74L267.55,418.82L268.05,418.26L268.55,418.09L269.05,418.59L269.55,418.52L270.05,418.41L270.54,418.53L271.04,418.86L271.54,418.76L272.04,418.83L272.54,418.85L273.04,418.95L273.54,418.74L274.04,418.85L274.54,418.35L275.03,418.73L275.53,418.20L276.03,418.30L276.53,418.72L277.03,418.79L277.53,418.42L278.03,418.48L278.53,418.46L279.03,418.84L279.52,418.54L280.02,418.40L280.52,418.67L281.02,418.84L281.52,418.40L282.02,418.87L282.52,418.44L283.02,418.62L283.51,419.07L284.01,418.74L284.51,418.93L285.01,418.45L285.51,418.70L286.01,418.94L286.51,418.25L287.01,418.35L287.51,418.48L288.00,418.66L288.50,419.11L289.00,418.77L289.50,419.20L290.00,419.20L290.00,419.70ZM292.50,419.70L292.50,418.26L293.01,417.21L293.51,417.30L294.02,414.08L294.53,414.85L295.04,414.75L295.54,412.39L296.05,411.79L296.56,411.97L297.06,411.60L297.57,414.33L298.08,415.61L298.59,414.94L299.09,415.47L299.60,417.52L299.60,419.70Z" fill="#e07a78" stroke="none" stroke-width="1"/>
<line x1="182.70" y1="429.00" x2="299.70" y2="429.00" stroke="#cfe3b5" stroke-width="0.6"/>
<path d="M182.40,429.30L182.40,428.54L182.90,428.02L183.40,427.31L183.90,427.55L184.40,426.39L184.90,425.24L185.40,424.48L185.91,425.95L186.41,423.93L186.91,423.55L187.41,423.66L187.91,421.42L188.41,422.93L188.91,422.99L189.41,421.00L189.91,422.22L190.41,424.02L190.91,424.28L191.41,423.85L191.92,425.78L192.42,424.13L192.92,424.09L193.42,425.22L193.92,424.04L194.42,423.89L194.92,425.06L195.42,424.78L195.92,426.42L196.42,426.64L196.92,424.24L197.42,426.17L197.92,426.47L198.43,424.95L198.93,425.47L199.43,427.01L199.93,426.70L200.43,426.98L200.93,427.04L201.43,427.65L201.93,426.88L202.43,427.38L202.93,427.38L203.43,427.80L203.93,428.01L204.44,428.21L204.94,427.44L205.44,427.72L205.94,427.90L206.44,428.31L206.94,428.29L207.44,428.31L207.94,428.13L208.44,428.37L208.94,428.17L209.44,428.23L209.94,428.24L210.44,427.81L210.95,428.02L211.45,428.05L211.95,428.20L212.45,428.10L212.95,427.96L213.45,428.38L213.95,428.59L214.45,428.35L214.95,428.47L215.45,428.28L215.95,428.72L216.45,428.35L216.96,428.80L217.46,428.56L217.96,428.62L218.46,428.69L218.96,428.41L219.46,428.51L219.96,428.78L220.46,428.62L220.96,428.57L221.46,428.80L221.96,428.80L222.46,428.60L222.96,428.55L223.47,428.68L223.97,428.70L224.47,428.67L224.97,428.78L225.47,428.51L225.97,428.48L226.47,428.69L226.97,428.80L227.47,428.72L227.97,428.55L228.47,428.75L228.97,428.80L229.48,428.80L229.98,428.59L230.48,428.63L230.98,428.77L231.48,428.62L231.98,428.56L232.48,428.47L232.98,428.53L233.48,428.71L233.98,428.54L234.48,428.49L234.98,428.52L235.48,428.58L235.99,428.65L236.49,428.69L236.99,428.56L237.49,428.66L237.99,428.63L238.49,428.80L238.99,428.80L239.49,428.80L239.99,428.71L240.49,428.73L240.99,428.80L241.49,428.80L242.00,428.61L242.50,428.80L243.00,428.71L243.50,428.80L244.00,428.80L244.50,428.80L245.00,428.80L245.00,429.30ZM246.60,429.30L246.60,428.78L247.10,427.89L247.60,428.03L248.10,427.19L248.60,426.96L249.09,427.67L249.59,427.81L250.09,427.92L250.59,426.95L251.09,427.07L251.59,427.90L252.09,428.12L252.59,427.94L253.09,427.62L253.59,427.82L254.08,427.66L254.58,427.46L255.08,427.57L255.58,427.39L256.08,428.23L256.58,428.19L257.08,427.06L257.58,427.28L258.08,427.60L258.57,427.85L259.07,427.58L259.57,427.57L260.07,427.37L260.57,427.44L261.07,427.78L261.57,427.95L262.07,427.79L262.57,427.90L263.07,427.94L263.56,427.54L264.06,427.92L264.56,427.08L265.06,427.46L265.56,427.60L266.06,427.43L266.56,427.95L267.06,428.23L267.56,428.20L268.05,427.95L268.55,427.97L269.05,428.12L269.55,428.10L270.05,427.64L270.55,428.45L271.05,428.09L271.55,428.15L272.05,428.24L272.55,427.84L273.04,428.28L273.54,428.44L274.04,428.33L274.54,427.58L275.04,428.15L275.54,428.35L276.04,427.56L276.54,427.85L277.04,427.56L277.53,428.13L278.03,427.68L278.53,428.39L279.03,428.20L279.53,427.69L280.03,427.97L280.53,427.73L281.03,428.11L281.53,427.69L282.03,428.41L282.52,427.94L283.02,428.33L283.52,428.34L284.02,427.77L284.52,428.16L285.02,427.86L285.52,428.31L286.02,427.96L286.52,427.84L287.01,428.09L287.51,428.42L288.01,428.12L288.51,427.95L289.01,428.09L289.51,428.37L290.01,428.43L290.51,428.64L291.01,428.25L291.51,428.65L292.00,428.64L292.50,428.80L293.00,428.80L293.50,428.80L294.00,428.80L294.00,429.30ZM294.80,429.30L294.80,428.80L295.28,428.59L295.76,428.18L296.24,428.48L296.72,428.29L297.20,427.72L297.68,427.56L298.16,427.81L298.64,428.31L299.12,428.77L299.60,428.61L299.60,429.30Z" fill="#9cc75e" stroke="none" stroke-width="1"/>
<line x1="182.70" y1="439.30" x2="299.70" y2="439.30" stroke="#9090cc" stroke-width="0.6"/>
<path d="M181.20,439.60L181.20,439.10L181.70,439.09L182.21,438.86L182.71,438.69L183.21,438.55L183.72,438.74L184.22,438.22L184.72,438.56L185.22,438.61L185.73,438.75L186.23,438.35L186.73,438.63L187.24,438.48L187.74,438.11L188.24,437.90L188.75,437.92L189.25,438.62L189.75,438.68L190.26,438.53L190.76,438.31L191.26,438.12L191.77,438.21L192.27,438.16L192.77,438.48L193.28,438.45L193.78,438.67L194.28,438.63L194.78,438.69L195.29,438.39L195.79,438.30L196.29,438.30L196.80,438.42L197.30,438.37L197.80,438.50L198.31,437.98L198.81,438.23L199.31,438.11L199.82,438.10L200.32,438.58L200.82,438.74L201.32,438.63L201.83,438.17L202.33,438.30L202.83,438.62L203.34,438.32L203.84,438.60L204.34,438.12L204.85,438.73L205.35,438.10L205.85,437.82L206.36,438.29L206.86,438.20L207.36,438.50L207.87,438.30L208.37,438.38L208.87,438.37L209.38,438.65L209.88,438.49L210.38,438.72L210.88,438.43L211.39,438.59L211.89,438.82L212.39,438.60L212.90,439.10L213.40,439.10L213.40,439.60ZM215.00,439.60L215.00,439.10L215.50,439.10L216.00,439.10L216.50,439.10L217.00,438.92L217.50,439.10L218.00,438.97L218.50,439.10L219.00,439.10L219.50,439.10L220.00,439.10L220.00,439.60ZM222.00,439.60L222.00,439.10L222.50,439.10L223.00,439.10L223.50,438.81L224.00,438.82L224.50,439.10L225.00,439.10L225.50,439.10L226.00,439.10L226.00,439.60ZM228.00,439.60L228.00,439.10L228.50,439.10L229.00,439.07L229.50,439.06L230.00,438.86L230.50,439.10L231.00,439.10L231.50,439.10L232.00,439.10L232.00,439.60ZM234.00,439.60L234.00,439.10L234.50,439.09L235.00,439.10L235.50,438.92L236.00,438.73L236.50,439.04L237.00,438.79L237.50,438.81L238.00,438.82L238.50,439.10L239.00,439.05L239.50,439.10L240.00,439.10L240.00,439.60ZM241.00,439.60L241.00,439.05L241.50,438.64L242.00,438.47L242.50,438.21L243.00,438.57L243.50,438.89L244.00,439.10L244.00,439.60ZM245.00,439.60L245.00,439.10L245.50,439.10L246.00,439.10L246.50,438.88L247.00,438.38L247.50,438.74L248.00,438.18L248.50,438.21L249.00,438.45L249.50,438.59L250.00,437.93L250.50,437.77L251.00,438.34L251.50,438.24L252.00,438.45L252.50,438.79L253.00,439.10L253.00,439.60ZM253.70,439.60L253.70,437.74L254.20,434.93L254.69,433.26L255.19,432.43L255.68,434.38L256.18,432.06L256.68,432.76L257.17,434.15L257.67,433.00L258.16,435.23L258.66,434.62L259.15,434.87L259.65,433.67L260.15,434.03L260.64,435.99L261.14,434.98L261.63,436.51L262.13,435.47L262.62,435.90L263.12,436.72L263.62,438.11L264.11,437.99L264.61,438.47L265.10,438.57L265.60,439.10L265.60,439.60ZM266.00,439.60L266.00,439.10L266.50,439.10L267.00,438.94L267.50,438.93L268.00,438.68L268.50,438.51L269.00,438.62L269.50,438.38L270.00,438.61L270.50,438.43L271.00,438.73L271.50,438.45L272.00,438.71L272.50,438.34L273.00,437.82L273.50,437.72L274.00,437.89L274.50,438.66L275.00,437.82L275.50,438.31L276.00,438.25L276.50,438.53L277.00,438.31L277.50,438.72L278.00,438.91L278.50,438.73L279.00,438.95L279.50,438.89L280.00,438.87L280.50,438.48L281.00,438.43L281.50,438.73L282.00,438.31L282.50,438.80L283.00,437.97L283.50,438.55L284.00,438.24L284.50,438.57L285.00,438.46L285.50,438.94L286.00,439.10L286.00,439.60ZM287.00,439.60L287.00,439.10L287.50,439.10L288.00,439.10L288.50,438.80L289.00,438.54L289.50,438.79L290.00,438.93L290.50,439.10L291.00,439.10L291.00,439.60ZM294.30,439.60L294.30,438.98L294.78,437.67L295.26,437.89L295.75,437.28L296.23,436.70L296.71,437.99L297.19,436.94L297.67,437.64L298.15,438.29L298.64,437.92L299.12,438.50L299.60,439.10L299.60,439.60Z" fill="#23237f" stroke="none" stroke-width="1"/>
<rect x="181.50" y="412.30" width="21.30" height="20.30" rx="2.5" fill="none" stroke="#d9575c" stroke-width="0.8"/>
<rect x="251.90" y="401.20" width="13.20" height="13.00" rx="2.5" fill="none" stroke="#d9575c" stroke-width="0.8"/>
<rect x="251.90" y="430.30" width="13.20" height="13.20" rx="2.5" fill="none" stroke="#d9575c" stroke-width="0.8"/>
<line x1="168.80" y1="403.00" x2="168.80" y2="429.60" stroke="#000" stroke-width="0.9"/>
<line x1="168.80" y1="433.50" x2="168.80" y2="440.50" stroke="#000" stroke-width="0.9"/>
<text x="141.20" y="418.80" font-size="5.6" fill="#222" textLength="24.20" lengthAdjust="spacingAndGlyphs" stroke="#222" stroke-width="0.084">SMARCA4</text>
<text x="147.60" y="437.90" font-size="5.6" fill="#222" textLength="17.40" lengthAdjust="spacingAndGlyphs" stroke="#222" stroke-width="0.084">KMT2D</text>
<text x="180.60" y="405.30" font-size="4.4" fill="#333" text-anchor="end" stroke="#333" stroke-width="0.066">4.18</text>
<text x="180.60" y="410.80" font-size="4.4" fill="#333" text-anchor="end" stroke="#333" stroke-width="0.066">0</text>
<text x="180.60" y="415.00" font-size="4.4" fill="#333" text-anchor="end" stroke="#333" stroke-width="0.066">0.92</text>
<text x="180.60" y="419.50" font-size="4.4" fill="#333" text-anchor="end" stroke="#333" stroke-width="0.066">0</text>
<text x="180.60" y="424.20" font-size="4.4" fill="#333" text-anchor="end" stroke="#333" stroke-width="0.066">2.96</text>
<text x="180.60" y="430.00" font-size="4.4" fill="#333" text-anchor="end" stroke="#333" stroke-width="0.066">0</text>
<text x="180.60" y="433.50" font-size="4.4" fill="#333" text-anchor="end" stroke="#333" stroke-width="0.066">2.81</text>
<text x="180.60" y="440.30" font-size="4.4" fill="#333" text-anchor="end" stroke="#333" stroke-width="0.066">0</text>
<text x="302.00" y="410.10" font-size="5.6" fill="#222" textLength="19.20" lengthAdjust="spacingAndGlyphs" stroke="#222" stroke-width="0.084">(ref. 64)</text>
<text x="302.00" y="419.30" font-size="5.6" fill="#222" textLength="19.20" lengthAdjust="spacingAndGlyphs" stroke="#222" stroke-width="0.084">(ref. 67)</text>
<text x="302.00" y="429.70" font-size="5.6" fill="#222" textLength="19.20" lengthAdjust="spacingAndGlyphs" stroke="#222" stroke-width="0.084">(ref. 68)</text>
<text x="302.00" y="438.90" font-size="5.6" fill="#222" textLength="19.20" lengthAdjust="spacingAndGlyphs" stroke="#222" stroke-width="0.084">(ref. 62)</text>
<rect x="276.20" y="442.90" width="23.00" height="1.20" fill="#222"/>
<text x="282.60" y="449.90" font-size="5.6" fill="#222" textLength="10.20" lengthAdjust="spacingAndGlyphs" stroke="#222" stroke-width="0.084">1 kb</text>
<text x="181.50" y="456.20" font-size="6.0" fill="#222" textLength="14.30" lengthAdjust="spacingAndGlyphs" font-style="italic" stroke="#222" stroke-width="0.090">Zfp36</text>
<line x1="196.60" y1="466.40" x2="196.60" y2="458.80" stroke="#000" stroke-width="0.8"/>
<line x1="196.60" y1="459.40" x2="183.60" y2="459.40" stroke="#000" stroke-width="1.2"/>
<path d="M182.60,459.40L185.12,458.14L185.12,460.66Z" fill="#000" stroke="none" stroke-width="1"/>
<rect x="195.30" y="461.60" width="1.90" height="5.00" fill="#000"/>
<line x1="181.50" y1="463.80" x2="195.80" y2="463.80" stroke="#555" stroke-width="0.8"/>
<circle cx="182.25" cy="463.80" r="0.35" fill="#555"/>
<circle cx="183.75" cy="463.80" r="0.35" fill="#555"/>
<circle cx="185.25" cy="463.80" r="0.35" fill="#555"/>
<circle cx="186.75" cy="463.80" r="0.35" fill="#555"/>
<circle cx="188.25" cy="463.80" r="0.35" fill="#555"/>
<circle cx="189.75" cy="463.80" r="0.35" fill="#555"/>
<circle cx="191.25" cy="463.80" r="0.35" fill="#555"/>
<circle cx="192.75" cy="463.80" r="0.35" fill="#555"/>
<circle cx="194.25" cy="463.80" r="0.35" fill="#555"/>
<rect x="182.70" y="470.30" width="117.00" height="7.60" fill="#f5f5f5"/>
<rect x="182.70" y="479.50" width="117.00" height="8.20" fill="#f5f5f5"/>
<rect x="182.70" y="489.20" width="117.00" height="8.00" fill="#f5f5f5"/>
<rect x="182.70" y="498.90" width="117.00" height="8.20" fill="#f5f5f5"/>
<rect x="229.30" y="464.30" width="16.00" height="48.00" rx="2.5" fill="#f5ece0" fill-opacity="0.9"/>
<rect x="250.80" y="489.20" width="16.10" height="23.10" rx="2.5" fill="#f5ece0" fill-opacity="0.9"/>
<line x1="182.70" y1="477.60" x2="299.70" y2="477.60" stroke="#bcd8f0" stroke-width="0.6"/>
<path d="M181.20,477.90L181.20,477.40L181.80,476.64L182.40,477.40L182.40,477.90ZM185.00,477.90L185.00,477.40L185.50,477.35L186.00,477.40L186.00,477.90ZM187.00,477.90L187.00,477.40L187.50,477.40L188.00,477.40L188.00,477.90ZM189.00,477.90L189.00,477.40L189.51,477.14L190.03,476.97L190.54,476.61L191.05,476.71L191.56,477.11L192.07,477.27L192.59,477.16L193.10,477.40L193.10,477.90ZM195.50,477.90L195.50,477.02L196.00,476.40L196.49,476.54L196.99,474.96L197.48,476.01L197.98,473.91L198.47,473.52L198.97,475.06L199.47,474.27L199.96,474.73L200.46,476.20L200.95,475.51L201.45,476.44L201.95,475.55L202.44,476.01L202.94,475.88L203.43,476.97L203.93,476.85L204.43,476.77L204.92,476.90L205.42,477.27L205.91,477.01L206.41,477.17L206.90,477.40L207.40,477.40L207.40,477.90ZM208.00,477.90L208.00,477.29L208.60,476.45L209.20,477.29L209.20,477.90ZM212.00,477.90L212.00,477.40L212.50,477.40L213.00,477.40L213.00,477.90ZM216.00,477.90L216.00,477.40L216.50,477.40L217.00,477.40L217.00,477.90ZM220.00,477.90L220.00,477.40L220.50,477.29L221.00,477.40L221.00,477.90ZM224.00,477.90L224.00,477.40L224.50,477.40L225.00,477.40L225.00,477.90ZM228.00,477.90L228.00,477.40L228.50,477.40L229.00,477.40L229.00,477.90ZM231.30,477.90L231.30,476.99L231.81,476.34L232.32,475.85L232.83,476.11L233.34,473.90L233.85,474.42L234.36,470.46L234.87,470.30L235.38,471.09L235.89,473.10L236.40,474.96L236.90,472.64L237.41,470.81L237.92,472.68L238.43,472.65L238.94,472.54L239.45,473.71L239.96,475.24L240.47,475.96L240.98,475.80L241.49,476.93L242.00,477.32L242.00,477.90ZM243.00,477.90L243.00,477.40L243.50,477.38L244.00,477.40L244.00,477.90ZM251.90,477.90L251.90,477.20L252.40,476.46L252.90,476.60L253.40,475.71L253.90,475.51L254.40,475.22L254.90,475.96L255.40,475.95L255.90,476.10L256.40,475.72L256.90,474.62L257.40,475.78L257.90,474.83L258.40,472.80L258.90,473.38L259.40,472.34L259.90,473.90L260.40,473.90L260.90,476.03L261.40,474.61L261.90,475.42L262.40,475.36L262.90,475.73L263.40,475.93L263.90,475.43L264.40,475.67L264.90,475.90L265.40,476.89L265.90,476.42L266.40,476.22L266.90,476.62L267.40,476.84L267.90,476.81L268.40,477.18L268.90,476.89L269.40,476.92L269.90,477.37L270.40,477.19L270.90,477.21L271.40,477.37L271.90,477.30L272.40,477.28L272.90,477.36L273.40,477.40L273.40,477.90ZM275.80,477.90L275.80,477.08L276.31,475.37L276.82,474.71L277.33,473.61L277.84,472.94L278.35,474.20L278.86,472.77L279.37,473.52L279.88,472.28L280.39,473.12L280.90,474.82L281.40,474.56L281.91,474.80L282.42,475.89L282.93,476.32L283.44,476.33L283.95,476.92L284.46,476.67L284.97,476.51L285.48,476.81L285.99,477.40L286.50,477.23L286.50,477.90ZM288.00,477.90L288.00,477.40L288.50,477.40L289.00,477.40L289.00,477.90ZM291.00,477.90L291.00,477.40L291.50,477.40L292.00,477.40L292.00,477.90ZM295.00,477.90L295.00,477.40L295.50,477.40L296.00,477.40L296.00,477.90Z" fill="#7ab6e6" stroke="none" stroke-width="1"/>
<line x1="182.70" y1="487.40" x2="299.70" y2="487.40" stroke="#f0baba" stroke-width="0.6"/>
<path d="M181.20,487.70L181.20,487.20L181.67,487.20L182.13,487.15L182.60,487.03L183.07,486.94L183.53,487.17L184.00,487.20L184.00,487.70ZM185.00,487.70L185.00,487.20L185.50,487.20L186.00,487.20L186.51,487.20L187.01,487.20L187.51,487.20L188.01,487.20L188.51,487.01L189.02,487.00L189.52,487.11L190.02,486.81L190.52,486.54L191.03,487.01L191.53,486.28L192.03,486.24L192.53,486.47L193.03,486.56L193.54,485.57L194.04,486.18L194.54,486.39L195.04,486.31L195.54,485.15L196.05,485.26L196.55,484.61L197.05,484.45L197.55,484.56L198.06,483.29L198.56,484.84L199.06,484.65L199.56,484.30L200.06,484.91L200.57,484.70L201.07,485.37L201.57,485.35L202.07,486.36L202.57,486.18L203.08,486.18L203.58,486.50L204.08,486.39L204.58,486.60L205.09,486.49L205.59,486.22L206.09,486.56L206.59,486.69L207.09,486.95L207.60,487.05L208.10,486.91L208.60,487.20L208.60,487.70ZM209.00,487.70L209.00,487.20L209.50,487.20L210.00,487.20L210.50,487.20L211.00,487.20L211.50,487.20L212.00,487.20L212.50,487.20L213.00,487.20L213.50,487.20L214.00,487.20L214.50,487.20L215.00,487.20L215.50,487.20L216.00,487.20L216.50,487.20L217.00,487.01L217.50,487.01L218.00,487.20L218.50,487.05L219.00,487.14L219.50,486.90L220.00,487.12L220.50,487.20L221.00,487.20L221.50,487.13L222.00,487.20L222.50,487.16L223.00,487.08L223.50,487.20L224.00,487.20L224.50,487.12L225.00,487.20L225.50,487.20L226.00,487.20L226.50,487.20L227.00,487.20L227.50,487.20L228.00,487.20L228.50,487.20L229.00,487.20L229.50,487.20L230.00,487.20L230.00,487.70ZM231.30,487.70L231.30,486.73L231.81,486.16L232.31,486.56L232.82,485.08L233.33,484.49L233.83,484.18L234.34,484.35L234.85,482.65L235.36,484.10L235.86,482.73L236.37,482.40L236.88,480.13L237.38,480.62L237.89,483.25L238.40,482.62L238.90,483.97L239.41,482.13L239.92,482.95L240.42,484.94L240.93,484.77L241.44,485.12L241.94,486.06L242.45,485.40L242.96,485.94L243.47,485.93L243.97,486.42L244.48,487.02L244.99,486.96L245.49,487.20L246.00,487.13L246.00,487.70ZM251.90,487.70L251.90,486.78L252.40,486.48L252.90,486.61L253.41,486.65L253.91,485.44L254.41,485.00L254.91,486.23L255.41,485.65L255.92,486.26L256.42,485.25L256.92,485.24L257.42,486.17L257.93,485.66L258.43,485.56L258.93,485.97L259.43,485.09L259.93,485.74L260.44,486.05L260.94,485.60L261.44,485.36L261.94,486.13L262.44,486.00L262.95,485.10L263.45,485.60L263.95,485.91L264.45,485.83L264.95,486.36L265.46,486.25L265.96,486.14L266.46,485.85L266.96,486.31L267.47,486.35L267.97,486.54L268.47,485.92L268.97,486.41L269.47,485.68L269.98,485.67L270.48,486.44L270.98,486.08L271.48,485.28L271.98,485.82L272.49,485.82L272.99,484.15L273.49,484.65L273.99,484.68L274.49,483.78L275.00,483.50L275.50,484.86L276.00,484.96L276.50,483.89L277.01,483.64L277.51,482.82L278.01,481.07L278.51,480.50L279.01,479.50L279.52,482.62L280.02,481.79L280.52,482.72L281.02,481.57L281.52,484.27L282.03,485.01L282.53,484.75L283.03,484.89L283.53,485.26L284.03,485.39L284.54,484.18L285.04,485.18L285.54,484.52L286.04,485.16L286.55,486.09L287.05,484.64L287.55,485.02L288.05,484.94L288.55,485.12L289.06,485.35L289.56,486.32L290.06,486.01L290.56,486.41L291.06,486.29L291.57,486.72L292.07,486.48L292.57,486.04L293.07,486.75L293.57,486.44L294.08,486.74L294.58,486.82L295.08,486.55L295.58,486.60L296.09,486.91L296.59,486.89L297.09,487.20L297.59,487.19L298.09,486.99L298.60,487.20L299.10,487.20L299.60,487.20L299.60,487.70Z" fill="#e07a78" stroke="none" stroke-width="1"/>
<line x1="182.70" y1="496.90" x2="299.70" y2="496.90" stroke="#cfe3b5" stroke-width="0.6"/>
<path d="M181.20,497.20L181.20,496.70L181.70,496.55L182.20,496.67L182.69,496.38L183.19,496.11L183.69,495.87L184.19,496.00L184.69,495.91L185.18,496.32L185.68,495.88L186.18,495.90L186.68,495.36L187.18,495.62L187.67,495.34L188.17,495.65L188.67,495.91L189.17,495.06L189.67,495.04L190.16,495.55L190.66,495.87L191.16,495.26L191.66,495.21L192.16,494.74L192.65,494.92L193.15,494.99L193.65,494.81L194.15,495.06L194.64,495.55L195.14,495.48L195.64,493.86L196.14,493.95L196.64,494.89L197.13,493.80L197.63,494.51L198.13,495.30L198.63,493.94L199.13,494.46L199.62,493.86L200.12,494.34L200.62,495.40L201.12,494.49L201.62,494.28L202.11,494.27L202.61,495.30L203.11,495.15L203.61,495.06L204.11,495.87L204.60,495.21L205.10,495.45L205.60,496.29L206.10,495.89L206.60,496.10L207.09,496.28L207.59,495.95L208.09,495.69L208.59,496.04L209.09,496.40L209.58,496.14L210.08,495.95L210.58,495.85L211.08,496.05L211.58,496.54L212.07,495.94L212.57,496.21L213.07,496.56L213.57,496.55L214.07,496.59L214.56,496.27L215.06,496.59L215.56,496.25L216.06,496.65L216.56,496.44L217.05,496.51L217.55,496.70L218.05,496.70L218.55,496.37L219.04,496.37L219.54,496.70L220.04,496.52L220.54,496.44L221.04,496.50L221.53,496.53L222.03,496.70L222.53,496.63L223.03,496.70L223.53,496.60L224.02,496.70L224.52,496.68L225.02,496.70L225.52,496.70L226.02,496.70L226.51,496.70L227.01,496.70L227.51,496.70L228.01,496.70L228.51,496.70L229.00,496.70L229.50,496.70L230.00,496.70L230.00,497.20ZM231.30,497.20L231.30,496.26L231.81,496.12L232.31,495.65L232.82,495.52L233.33,495.32L233.83,493.88L234.34,493.80L234.85,492.91L235.35,493.22L235.86,492.05L236.36,493.79L236.87,493.63L237.38,493.62L237.88,493.34L238.39,491.90L238.90,494.23L239.40,493.88L239.91,495.02L240.42,495.25L240.92,494.43L241.43,494.56L241.94,494.97L242.44,494.64L242.95,495.01L243.45,495.20L243.96,495.84L244.47,496.32L244.97,496.53L245.48,496.28L245.99,496.70L246.49,496.70L247.00,496.70L247.00,497.20ZM250.70,497.20L250.70,496.51L251.20,495.60L251.70,495.62L252.20,494.80L252.70,495.37L253.19,494.56L253.69,494.56L254.19,494.61L254.69,494.80L255.19,493.67L255.69,493.27L256.19,494.29L256.69,494.45L257.19,493.52L257.69,491.78L258.18,492.90L258.68,491.17L259.18,493.12L259.68,490.47L260.18,492.99L260.68,492.88L261.18,491.28L261.68,492.45L262.18,492.17L262.68,493.53L263.17,492.63L263.67,493.84L264.17,493.52L264.67,493.78L265.17,492.84L265.67,493.42L266.17,494.06L266.67,493.65L267.17,494.31L267.67,494.29L268.16,494.83L268.66,494.92L269.16,495.61L269.66,494.84L270.16,495.40L270.66,495.30L271.16,495.53L271.66,496.16L272.16,496.07L272.66,495.23L273.15,495.43L273.65,495.20L274.15,495.22L274.65,495.94L275.15,495.12L275.65,495.53L276.15,495.39L276.65,495.63L277.15,495.91L277.64,495.66L278.14,495.69L278.64,495.87L279.14,495.82L279.64,495.71L280.14,495.90L280.64,496.04L281.14,495.31L281.64,495.80L282.14,495.79L282.63,495.34L283.13,495.44L283.63,495.73L284.13,495.90L284.63,495.41L285.13,496.01L285.63,495.80L286.13,495.91L286.63,495.32L287.13,496.08L287.62,495.76L288.12,495.85L288.62,496.31L289.12,496.20L289.62,495.60L290.12,495.71L290.62,496.23L291.12,496.27L291.62,495.66L292.12,495.98L292.61,495.90L293.11,495.77L293.61,496.30L294.11,496.13L294.61,495.85L295.11,496.43L295.61,496.44L296.11,496.12L296.61,496.23L297.11,496.48L297.60,496.70L298.10,496.49L298.60,496.70L299.10,496.69L299.60,496.70L299.60,497.20Z" fill="#9cc75e" stroke="none" stroke-width="1"/>
<line x1="182.70" y1="506.80" x2="299.70" y2="506.80" stroke="#9090cc" stroke-width="0.6"/>
<path d="M181.50,507.10L181.50,506.60L182.00,506.60L182.50,506.59L183.00,506.60L183.00,507.10ZM184.50,507.10L184.50,506.60L185.00,506.60L185.50,506.60L186.00,506.60L186.00,507.10ZM188.00,507.10L188.00,506.60L188.50,506.60L189.00,506.40L189.50,506.60L190.00,506.60L190.00,507.10ZM191.00,507.10L191.00,506.60L191.50,506.60L192.00,506.60L192.50,506.60L193.00,506.60L193.50,506.60L194.00,506.60L194.00,507.10ZM195.50,507.10L195.50,506.60L196.00,506.60L196.50,506.22L197.00,506.51L197.50,506.05L198.00,505.68L198.50,506.34L199.00,506.00L199.50,505.86L200.00,505.39L200.50,506.02L201.00,505.90L201.50,505.97L202.00,506.22L202.50,505.75L203.00,505.73L203.50,506.11L204.00,506.55L204.50,506.42L205.00,506.60L205.00,507.10ZM206.00,507.10L206.00,506.60L206.50,506.60L207.00,506.46L207.50,506.60L208.00,506.60L208.00,507.10ZM210.00,507.10L210.00,506.60L210.50,506.60L211.00,506.60L211.50,506.60L212.00,506.60L212.00,507.10ZM214.00,507.10L214.00,506.60L214.50,506.60L215.00,506.46L215.50,506.60L216.00,506.60L216.00,507.10ZM218.00,507.10L218.00,506.60L218.50,506.60L219.00,506.60L219.50,506.60L220.00,506.57L220.50,506.52L221.00,506.60L221.50,506.60L222.00,506.60L222.00,507.10ZM224.00,507.10L224.00,506.60L224.50,506.60L225.00,506.60L225.50,506.60L226.00,506.60L226.50,506.60L227.00,506.60L227.50,506.60L228.00,506.60L228.00,507.10ZM231.30,507.10L231.30,506.50L231.81,505.69L232.31,505.15L232.82,504.91L233.32,503.43L233.83,503.67L234.33,504.12L234.84,503.00L235.34,501.23L235.85,501.11L236.35,503.00L236.86,501.27L237.36,501.95L237.87,504.01L238.38,502.52L238.88,504.29L239.39,504.81L239.89,503.86L240.40,503.17L240.90,503.98L241.41,504.33L241.91,504.68L242.42,505.23L242.92,505.42L243.43,505.50L243.94,505.57L244.44,505.29L244.95,506.19L245.45,506.09L245.96,505.60L246.46,505.91L246.97,506.41L247.47,506.23L247.98,506.18L248.48,506.20L248.99,506.60L249.49,506.55L250.00,506.60L250.00,507.10ZM251.90,507.10L251.90,506.60L252.40,506.12L252.90,505.37L253.41,505.78L253.91,505.07L254.41,505.06L254.91,505.61L255.41,505.12L255.91,504.33L256.42,504.45L256.92,501.65L257.42,503.18L257.92,502.76L258.42,500.78L258.92,500.48L259.43,500.99L259.93,501.79L260.43,502.00L260.93,501.73L261.43,504.83L261.94,504.15L262.44,504.48L262.94,504.94L263.44,504.89L263.94,505.52L264.44,504.93L264.95,505.28L265.45,505.36L265.95,505.63L266.45,505.88L266.95,505.39L267.45,505.36L267.96,506.14L268.46,505.83L268.96,505.61L269.46,505.93L269.96,506.01L270.46,505.94L270.97,506.11L271.47,505.99L271.97,505.68L272.47,505.55L272.97,505.39L273.48,505.74L273.98,505.92L274.48,505.02L274.98,505.33L275.48,505.26L275.98,505.23L276.49,505.70L276.99,505.53L277.49,505.93L277.99,505.75L278.49,505.77L278.99,506.47L279.50,506.09L280.00,506.58L280.50,506.60L280.50,507.10ZM281.00,507.10L281.00,506.60L281.50,506.60L282.00,506.45L282.50,506.60L283.00,506.60L283.00,507.10ZM284.00,507.10L284.00,506.60L284.50,506.60L285.00,506.44L285.50,506.60L286.00,506.60L286.00,507.10ZM287.00,507.10L287.00,506.60L287.50,506.60L288.00,506.60L288.50,506.60L289.00,506.60L289.50,506.60L290.00,506.60L290.00,507.10ZM291.00,507.10L291.00,506.60L291.50,506.60L292.00,506.58L292.50,506.59L293.00,506.60L293.50,506.60L294.00,506.60L294.00,507.10ZM295.00,507.10L295.00,506.60L295.50,506.60L296.00,506.60L296.50,506.60L297.00,506.60L297.00,507.10Z" fill="#23237f" stroke="none" stroke-width="1"/>
<rect x="229.30" y="464.30" width="16.00" height="48.00" rx="2.5" fill="none" stroke="#d9575c" stroke-width="0.8"/>
<rect x="250.80" y="489.20" width="16.10" height="23.10" rx="2.5" fill="none" stroke="#d9575c" stroke-width="0.8"/>
<line x1="168.80" y1="470.80" x2="168.80" y2="496.20" stroke="#000" stroke-width="0.9"/>
<line x1="168.80" y1="498.50" x2="168.80" y2="506.50" stroke="#000" stroke-width="0.9"/>
<text x="141.20" y="484.20" font-size="5.6" fill="#222" textLength="24.20" lengthAdjust="spacingAndGlyphs" stroke="#222" stroke-width="0.084">SMARCA4</text>
<text x="147.60" y="504.50" font-size="5.6" fill="#222" textLength="17.40" lengthAdjust="spacingAndGlyphs" stroke="#222" stroke-width="0.084">KMT2D</text>
<text x="180.60" y="472.30" font-size="4.4" fill="#333" text-anchor="end" stroke="#333" stroke-width="0.066">2.86</text>
<text x="180.60" y="478.00" font-size="4.4" fill="#333" text-anchor="end" stroke="#333" stroke-width="0.066">0</text>
<text x="180.60" y="481.50" font-size="4.4" fill="#333" text-anchor="end" stroke="#333" stroke-width="0.066">1.48</text>
<text x="180.60" y="486.50" font-size="4.4" fill="#333" text-anchor="end" stroke="#333" stroke-width="0.066">0</text>
<text x="180.60" y="490.70" font-size="4.4" fill="#333" text-anchor="end" stroke="#333" stroke-width="0.066">3.10</text>
<text x="180.60" y="497.00" font-size="4.4" fill="#333" text-anchor="end" stroke="#333" stroke-width="0.066">0</text>
<text x="180.60" y="500.70" font-size="4.4" fill="#333" text-anchor="end" stroke="#333" stroke-width="0.066">4.03</text>
<text x="180.60" y="506.90" font-size="4.4" fill="#333" text-anchor="end" stroke="#333" stroke-width="0.066">0</text>
<text x="302.00" y="476.90" font-size="5.6" fill="#222" textLength="19.20" lengthAdjust="spacingAndGlyphs" stroke="#222" stroke-width="0.084">(ref. 64)</text>
<text x="302.00" y="487.00" font-size="5.6" fill="#222" textLength="19.20" lengthAdjust="spacingAndGlyphs" stroke="#222" stroke-width="0.084">(ref. 67)</text>
<text x="302.00" y="496.40" font-size="5.6" fill="#222" textLength="19.20" lengthAdjust="spacingAndGlyphs" stroke="#222" stroke-width="0.084">(ref. 68)</text>
<text x="302.00" y="506.10" font-size="5.6" fill="#222" textLength="19.20" lengthAdjust="spacingAndGlyphs" stroke="#222" stroke-width="0.084">(ref. 62)</text>
<rect x="276.20" y="509.90" width="23.00" height="1.20" fill="#222"/>
<text x="282.60" y="516.90" font-size="5.6" fill="#222" textLength="10.20" lengthAdjust="spacingAndGlyphs" stroke="#222" stroke-width="0.084">1 kb</text>
<rect x="0.00" y="0.00" width="520.00" height="1.10" fill="#000"/>
<rect x="0.00" y="0.00" width="1.30" height="525.00" fill="#000"/>
<rect x="518.80" y="0.00" width="1.20" height="525.00" fill="#000"/>
<rect x="0.00" y="523.50" width="520.00" height="1.50" fill="#000"/></svg>
</body></html>
